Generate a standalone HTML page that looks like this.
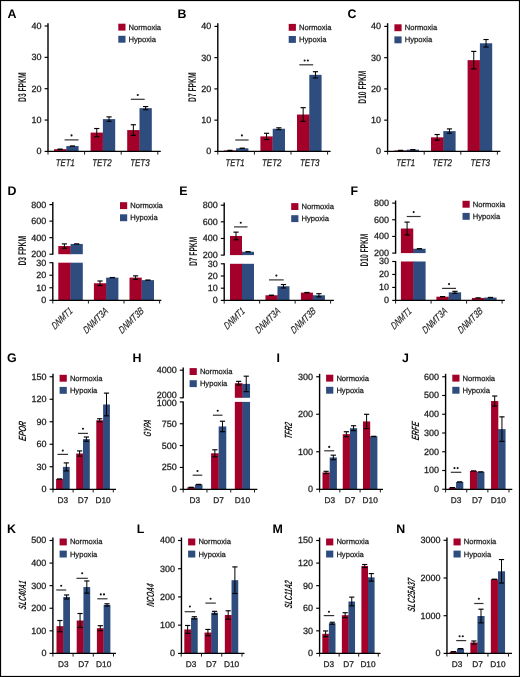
<!DOCTYPE html>
<html><head><meta charset="utf-8"><title>Figure</title>
<style>
html,body{margin:0;padding:0;background:#fff;}
body{width:520px;height:677px;overflow:hidden;}
svg{display:block;font-family:"Liberation Sans", sans-serif;text-rendering:geometricPrecision;}
</style></head><body>
<div style="position:absolute;left:0;top:0;width:520px;height:677px;will-change:transform">
<svg width="520" height="677" viewBox="0 0 520 677">
<rect x="0" y="0" width="520" height="677" fill="#fff"/>
<rect x="54" y="149.21" width="12.3" height="2.19" fill="#A3002A"/>
<rect x="66.2" y="149.21" width="0.7" height="2.19" fill="#A3002A"/>
<rect x="66.3" y="146.07" width="12.3" height="5.33" fill="#2E4C7E"/>
<line x1="57.55" y1="149.21" x2="62.75" y2="149.21" stroke="#000" stroke-width="1.4"/>
<line x1="69.85" y1="146.07" x2="75.05" y2="146.07" stroke="#000" stroke-width="1.4"/>
<rect x="90.6" y="132.59" width="12.3" height="18.81" fill="#A3002A"/>
<rect x="102.8" y="132.59" width="0.7" height="18.81" fill="#A3002A"/>
<rect x="102.9" y="119.11" width="12.3" height="32.29" fill="#2E4C7E"/>
<line x1="96.75" y1="128.51" x2="96.75" y2="136.67" stroke="#000" stroke-width="1.0"/>
<line x1="94.15" y1="128.51" x2="99.35" y2="128.51" stroke="#000" stroke-width="1.15"/>
<line x1="94.15" y1="136.67" x2="99.35" y2="136.67" stroke="#000" stroke-width="1.15"/>
<line x1="109.05" y1="116.91" x2="109.05" y2="121.3" stroke="#000" stroke-width="1.0"/>
<line x1="106.45" y1="116.91" x2="111.65" y2="116.91" stroke="#000" stroke-width="1.15"/>
<line x1="106.45" y1="121.3" x2="111.65" y2="121.3" stroke="#000" stroke-width="1.15"/>
<rect x="127.2" y="130.08" width="12.3" height="21.32" fill="#A3002A"/>
<rect x="139.4" y="130.08" width="0.7" height="21.32" fill="#A3002A"/>
<rect x="139.5" y="108.14" width="12.3" height="43.26" fill="#2E4C7E"/>
<line x1="133.35" y1="124.75" x2="133.35" y2="135.41" stroke="#000" stroke-width="1.0"/>
<line x1="130.75" y1="124.75" x2="135.95" y2="124.75" stroke="#000" stroke-width="1.15"/>
<line x1="130.75" y1="135.41" x2="135.95" y2="135.41" stroke="#000" stroke-width="1.15"/>
<line x1="145.65" y1="106.57" x2="145.65" y2="109.7" stroke="#000" stroke-width="1.0"/>
<line x1="143.05" y1="106.57" x2="148.25" y2="106.57" stroke="#000" stroke-width="1.15"/>
<line x1="143.05" y1="109.7" x2="148.25" y2="109.7" stroke="#000" stroke-width="1.15"/>
<line x1="48" y1="23.2" x2="48" y2="151.9" stroke="#000" stroke-width="1.4"/>
<line x1="47.5" y1="151.4" x2="160.8" y2="151.4" stroke="#000" stroke-width="1.25"/>
<line x1="48" y1="151.4" x2="48" y2="154.6" stroke="#1a1a1a" stroke-width="1"/>
<line x1="84.6" y1="151.4" x2="84.6" y2="154.6" stroke="#1a1a1a" stroke-width="1"/>
<line x1="121.2" y1="151.4" x2="121.2" y2="154.6" stroke="#1a1a1a" stroke-width="1"/>
<line x1="157.8" y1="151.4" x2="157.8" y2="154.6" stroke="#1a1a1a" stroke-width="1"/>
<line x1="44.6" y1="151.4" x2="48" y2="151.4" stroke="#000" stroke-width="1.15"/>
<text x="41.5" y="154.35" font-size="9.0" text-anchor="end" font-weight="normal" font-style="normal" fill="#1a1a1a" stroke="#1a1a1a" stroke-width="0.25" >0</text>
<line x1="44.6" y1="120.05" x2="48" y2="120.05" stroke="#000" stroke-width="1.15"/>
<text x="41.5" y="123" font-size="9.0" text-anchor="end" font-weight="normal" font-style="normal" fill="#1a1a1a" stroke="#1a1a1a" stroke-width="0.25" >10</text>
<line x1="44.6" y1="88.7" x2="48" y2="88.7" stroke="#000" stroke-width="1.15"/>
<text x="41.5" y="91.65" font-size="9.0" text-anchor="end" font-weight="normal" font-style="normal" fill="#1a1a1a" stroke="#1a1a1a" stroke-width="0.25" >20</text>
<line x1="44.6" y1="57.35" x2="48" y2="57.35" stroke="#000" stroke-width="1.15"/>
<text x="41.5" y="60.3" font-size="9.0" text-anchor="end" font-weight="normal" font-style="normal" fill="#1a1a1a" stroke="#1a1a1a" stroke-width="0.25" >30</text>
<line x1="44.6" y1="26" x2="48" y2="26" stroke="#000" stroke-width="1.15"/>
<text x="41.5" y="28.95" font-size="9.0" text-anchor="end" font-weight="normal" font-style="normal" fill="#1a1a1a" stroke="#1a1a1a" stroke-width="0.25" >40</text>
<text x="65.3" y="165.8" font-size="9.8" text-anchor="middle" font-weight="normal" font-style="italic" fill="#1a1a1a" stroke="#1a1a1a" stroke-width="0.25" textLength="19" lengthAdjust="spacingAndGlyphs">TET1</text>
<text x="101.9" y="165.8" font-size="9.8" text-anchor="middle" font-weight="normal" font-style="italic" fill="#1a1a1a" stroke="#1a1a1a" stroke-width="0.25" textLength="19.5" lengthAdjust="spacingAndGlyphs">TET2</text>
<text x="139.9" y="165.8" font-size="9.8" text-anchor="middle" font-weight="normal" font-style="italic" fill="#1a1a1a" stroke="#1a1a1a" stroke-width="0.25" textLength="19.5" lengthAdjust="spacingAndGlyphs">TET3</text>
<line x1="64.6" y1="139.9" x2="78.5" y2="139.9" stroke="#333" stroke-width="1.2"/>
<circle cx="71.55" cy="135.4" r="1.05" fill="#111"/>
<line x1="130.8" y1="99.3" x2="144.7" y2="99.3" stroke="#333" stroke-width="1.2"/>
<circle cx="137.75" cy="95" r="1.05" fill="#111"/>
<rect x="118.3" y="23.7" width="7.2" height="6.9" fill="#A3002A"/>
<rect x="118.3" y="35.8" width="7.2" height="6.9" fill="#2E4C7E"/>
<text x="128.6" y="29.6" font-size="7.6" text-anchor="start" font-weight="normal" font-style="normal" fill="#1a1a1a" stroke="#1a1a1a" stroke-width="0.25" >Normoxia</text>
<text x="128.6" y="41.7" font-size="7.6" text-anchor="start" font-weight="normal" font-style="normal" fill="#1a1a1a" stroke="#1a1a1a" stroke-width="0.25" >Hypoxia</text>
<text transform="translate(26,87.2) rotate(-90)" x="0" y="0" font-size="11.2" text-anchor="middle" font-style="normal" font-weight="bold" fill="#1a1a1a" textLength="29.4" lengthAdjust="spacingAndGlyphs">D3 FPKM</text>
<text x="7.4" y="18.3" font-size="12.4" text-anchor="start" font-weight="bold" font-style="normal" fill="#000" >A</text>
<rect x="223.8" y="150.46" width="12.3" height="0.94" fill="#A3002A"/>
<rect x="236" y="150.46" width="0.7" height="0.94" fill="#A3002A"/>
<rect x="236.1" y="148.28" width="12.3" height="3.12" fill="#2E4C7E"/>
<line x1="227.35" y1="150.46" x2="232.55" y2="150.46" stroke="#000" stroke-width="1.4"/>
<line x1="239.65" y1="148.28" x2="244.85" y2="148.28" stroke="#000" stroke-width="1.4"/>
<rect x="260.4" y="136.4" width="12.3" height="15" fill="#A3002A"/>
<rect x="272.6" y="136.4" width="0.7" height="15" fill="#A3002A"/>
<rect x="272.7" y="128.74" width="12.3" height="22.66" fill="#2E4C7E"/>
<line x1="266.55" y1="133.28" x2="266.55" y2="139.53" stroke="#000" stroke-width="1.0"/>
<line x1="263.95" y1="133.28" x2="269.15" y2="133.28" stroke="#000" stroke-width="1.15"/>
<line x1="263.95" y1="139.53" x2="269.15" y2="139.53" stroke="#000" stroke-width="1.15"/>
<line x1="278.85" y1="127.81" x2="278.85" y2="129.68" stroke="#000" stroke-width="1.0"/>
<line x1="276.25" y1="127.81" x2="281.45" y2="127.81" stroke="#000" stroke-width="1.15"/>
<line x1="276.25" y1="129.68" x2="281.45" y2="129.68" stroke="#000" stroke-width="1.15"/>
<rect x="297" y="114.53" width="12.3" height="36.88" fill="#A3002A"/>
<rect x="309.2" y="114.53" width="0.7" height="36.88" fill="#A3002A"/>
<rect x="309.3" y="74.84" width="12.3" height="76.56" fill="#2E4C7E"/>
<line x1="303.15" y1="107.65" x2="303.15" y2="121.4" stroke="#000" stroke-width="1.0"/>
<line x1="300.55" y1="107.65" x2="305.75" y2="107.65" stroke="#000" stroke-width="1.15"/>
<line x1="300.55" y1="121.4" x2="305.75" y2="121.4" stroke="#000" stroke-width="1.15"/>
<line x1="315.45" y1="71.71" x2="315.45" y2="77.96" stroke="#000" stroke-width="1.0"/>
<line x1="312.85" y1="71.71" x2="318.05" y2="71.71" stroke="#000" stroke-width="1.15"/>
<line x1="312.85" y1="77.96" x2="318.05" y2="77.96" stroke="#000" stroke-width="1.15"/>
<line x1="217.8" y1="23.2" x2="217.8" y2="151.9" stroke="#000" stroke-width="1.4"/>
<line x1="217.3" y1="151.4" x2="330.6" y2="151.4" stroke="#000" stroke-width="1.25"/>
<line x1="217.8" y1="151.4" x2="217.8" y2="154.6" stroke="#1a1a1a" stroke-width="1"/>
<line x1="254.4" y1="151.4" x2="254.4" y2="154.6" stroke="#1a1a1a" stroke-width="1"/>
<line x1="291" y1="151.4" x2="291" y2="154.6" stroke="#1a1a1a" stroke-width="1"/>
<line x1="327.6" y1="151.4" x2="327.6" y2="154.6" stroke="#1a1a1a" stroke-width="1"/>
<line x1="214.4" y1="151.4" x2="217.8" y2="151.4" stroke="#000" stroke-width="1.15"/>
<text x="211.3" y="154.35" font-size="9.0" text-anchor="end" font-weight="normal" font-style="normal" fill="#1a1a1a" stroke="#1a1a1a" stroke-width="0.25" >0</text>
<line x1="214.4" y1="120.15" x2="217.8" y2="120.15" stroke="#000" stroke-width="1.15"/>
<text x="211.3" y="123.1" font-size="9.0" text-anchor="end" font-weight="normal" font-style="normal" fill="#1a1a1a" stroke="#1a1a1a" stroke-width="0.25" >10</text>
<line x1="214.4" y1="88.9" x2="217.8" y2="88.9" stroke="#000" stroke-width="1.15"/>
<text x="211.3" y="91.85" font-size="9.0" text-anchor="end" font-weight="normal" font-style="normal" fill="#1a1a1a" stroke="#1a1a1a" stroke-width="0.25" >20</text>
<line x1="214.4" y1="57.65" x2="217.8" y2="57.65" stroke="#000" stroke-width="1.15"/>
<text x="211.3" y="60.6" font-size="9.0" text-anchor="end" font-weight="normal" font-style="normal" fill="#1a1a1a" stroke="#1a1a1a" stroke-width="0.25" >30</text>
<line x1="214.4" y1="26.4" x2="217.8" y2="26.4" stroke="#000" stroke-width="1.15"/>
<text x="211.3" y="29.35" font-size="9.0" text-anchor="end" font-weight="normal" font-style="normal" fill="#1a1a1a" stroke="#1a1a1a" stroke-width="0.25" >40</text>
<text x="235.1" y="165.8" font-size="9.8" text-anchor="middle" font-weight="normal" font-style="italic" fill="#1a1a1a" stroke="#1a1a1a" stroke-width="0.25" textLength="19" lengthAdjust="spacingAndGlyphs">TET1</text>
<text x="271.7" y="165.8" font-size="9.8" text-anchor="middle" font-weight="normal" font-style="italic" fill="#1a1a1a" stroke="#1a1a1a" stroke-width="0.25" textLength="19.5" lengthAdjust="spacingAndGlyphs">TET2</text>
<text x="309.7" y="165.8" font-size="9.8" text-anchor="middle" font-weight="normal" font-style="italic" fill="#1a1a1a" stroke="#1a1a1a" stroke-width="0.25" textLength="19.5" lengthAdjust="spacingAndGlyphs">TET3</text>
<line x1="235.2" y1="140" x2="248.6" y2="140" stroke="#333" stroke-width="1.2"/>
<circle cx="241.9" cy="135.4" r="1.05" fill="#111"/>
<line x1="299.3" y1="64.8" x2="313.2" y2="64.8" stroke="#333" stroke-width="1.2"/>
<circle cx="304.65" cy="60.5" r="1.05" fill="#111"/>
<circle cx="307.85" cy="60.5" r="1.05" fill="#111"/>
<rect x="288.7" y="23.9" width="7.2" height="6.9" fill="#A3002A"/>
<rect x="288.7" y="36" width="7.2" height="6.9" fill="#2E4C7E"/>
<text x="299" y="29.8" font-size="7.6" text-anchor="start" font-weight="normal" font-style="normal" fill="#1a1a1a" stroke="#1a1a1a" stroke-width="0.25" >Normoxia</text>
<text x="299" y="41.9" font-size="7.6" text-anchor="start" font-weight="normal" font-style="normal" fill="#1a1a1a" stroke="#1a1a1a" stroke-width="0.25" >Hypoxia</text>
<text transform="translate(195.9,87.2) rotate(-90)" x="0" y="0" font-size="11.2" text-anchor="middle" font-style="normal" font-weight="bold" fill="#1a1a1a" textLength="29.5" lengthAdjust="spacingAndGlyphs">D7 FPKM</text>
<text x="177.6" y="18.3" font-size="12.4" text-anchor="start" font-weight="bold" font-style="normal" fill="#000" >B</text>
<rect x="394.4" y="150.46" width="12.3" height="0.94" fill="#A3002A"/>
<rect x="406.6" y="150.46" width="0.7" height="0.94" fill="#A3002A"/>
<rect x="406.7" y="149.68" width="12.3" height="1.72" fill="#2E4C7E"/>
<line x1="397.95" y1="150.46" x2="403.15" y2="150.46" stroke="#000" stroke-width="1.4"/>
<line x1="410.25" y1="149.68" x2="415.45" y2="149.68" stroke="#000" stroke-width="1.4"/>
<rect x="431" y="137.34" width="12.3" height="14.06" fill="#A3002A"/>
<rect x="443.2" y="137.34" width="0.7" height="14.06" fill="#A3002A"/>
<rect x="443.3" y="131.09" width="12.3" height="20.31" fill="#2E4C7E"/>
<line x1="437.15" y1="134.53" x2="437.15" y2="140.15" stroke="#000" stroke-width="1.0"/>
<line x1="434.55" y1="134.53" x2="439.75" y2="134.53" stroke="#000" stroke-width="1.15"/>
<line x1="434.55" y1="140.15" x2="439.75" y2="140.15" stroke="#000" stroke-width="1.15"/>
<line x1="449.45" y1="128.9" x2="449.45" y2="133.28" stroke="#000" stroke-width="1.0"/>
<line x1="446.85" y1="128.9" x2="452.05" y2="128.9" stroke="#000" stroke-width="1.15"/>
<line x1="446.85" y1="133.28" x2="452.05" y2="133.28" stroke="#000" stroke-width="1.15"/>
<rect x="467.6" y="60.15" width="12.3" height="91.25" fill="#A3002A"/>
<rect x="479.8" y="60.15" width="0.7" height="91.25" fill="#A3002A"/>
<rect x="479.9" y="43.28" width="12.3" height="108.12" fill="#2E4C7E"/>
<line x1="473.75" y1="51.4" x2="473.75" y2="68.9" stroke="#000" stroke-width="1.0"/>
<line x1="471.15" y1="51.4" x2="476.35" y2="51.4" stroke="#000" stroke-width="1.15"/>
<line x1="471.15" y1="68.9" x2="476.35" y2="68.9" stroke="#000" stroke-width="1.15"/>
<line x1="486.05" y1="39.53" x2="486.05" y2="47.03" stroke="#000" stroke-width="1.0"/>
<line x1="483.45" y1="39.53" x2="488.65" y2="39.53" stroke="#000" stroke-width="1.15"/>
<line x1="483.45" y1="47.03" x2="488.65" y2="47.03" stroke="#000" stroke-width="1.15"/>
<line x1="387.6" y1="23.2" x2="387.6" y2="151.9" stroke="#000" stroke-width="1.4"/>
<line x1="387.1" y1="151.4" x2="500.4" y2="151.4" stroke="#000" stroke-width="1.25"/>
<line x1="387.6" y1="151.4" x2="387.6" y2="154.6" stroke="#1a1a1a" stroke-width="1"/>
<line x1="424.2" y1="151.4" x2="424.2" y2="154.6" stroke="#1a1a1a" stroke-width="1"/>
<line x1="460.8" y1="151.4" x2="460.8" y2="154.6" stroke="#1a1a1a" stroke-width="1"/>
<line x1="497.4" y1="151.4" x2="497.4" y2="154.6" stroke="#1a1a1a" stroke-width="1"/>
<line x1="384.2" y1="151.4" x2="387.6" y2="151.4" stroke="#000" stroke-width="1.15"/>
<text x="381.1" y="154.35" font-size="9.0" text-anchor="end" font-weight="normal" font-style="normal" fill="#1a1a1a" stroke="#1a1a1a" stroke-width="0.25" >0</text>
<line x1="384.2" y1="120.15" x2="387.6" y2="120.15" stroke="#000" stroke-width="1.15"/>
<text x="381.1" y="123.1" font-size="9.0" text-anchor="end" font-weight="normal" font-style="normal" fill="#1a1a1a" stroke="#1a1a1a" stroke-width="0.25" >10</text>
<line x1="384.2" y1="88.9" x2="387.6" y2="88.9" stroke="#000" stroke-width="1.15"/>
<text x="381.1" y="91.85" font-size="9.0" text-anchor="end" font-weight="normal" font-style="normal" fill="#1a1a1a" stroke="#1a1a1a" stroke-width="0.25" >20</text>
<line x1="384.2" y1="57.65" x2="387.6" y2="57.65" stroke="#000" stroke-width="1.15"/>
<text x="381.1" y="60.6" font-size="9.0" text-anchor="end" font-weight="normal" font-style="normal" fill="#1a1a1a" stroke="#1a1a1a" stroke-width="0.25" >30</text>
<line x1="384.2" y1="26.4" x2="387.6" y2="26.4" stroke="#000" stroke-width="1.15"/>
<text x="381.1" y="29.35" font-size="9.0" text-anchor="end" font-weight="normal" font-style="normal" fill="#1a1a1a" stroke="#1a1a1a" stroke-width="0.25" >40</text>
<text x="405.7" y="165.8" font-size="9.8" text-anchor="middle" font-weight="normal" font-style="italic" fill="#1a1a1a" stroke="#1a1a1a" stroke-width="0.25" textLength="19" lengthAdjust="spacingAndGlyphs">TET1</text>
<text x="442.3" y="165.8" font-size="9.8" text-anchor="middle" font-weight="normal" font-style="italic" fill="#1a1a1a" stroke="#1a1a1a" stroke-width="0.25" textLength="19.5" lengthAdjust="spacingAndGlyphs">TET2</text>
<text x="480.3" y="165.8" font-size="9.8" text-anchor="middle" font-weight="normal" font-style="italic" fill="#1a1a1a" stroke="#1a1a1a" stroke-width="0.25" textLength="19.5" lengthAdjust="spacingAndGlyphs">TET3</text>
<rect x="394.4" y="24.3" width="7.2" height="6.9" fill="#A3002A"/>
<rect x="394.4" y="36.4" width="7.2" height="6.9" fill="#2E4C7E"/>
<text x="404.7" y="30.2" font-size="7.6" text-anchor="start" font-weight="normal" font-style="normal" fill="#1a1a1a" stroke="#1a1a1a" stroke-width="0.25" >Normoxia</text>
<text x="404.7" y="42.3" font-size="7.6" text-anchor="start" font-weight="normal" font-style="normal" fill="#1a1a1a" stroke="#1a1a1a" stroke-width="0.25" >Hypoxia</text>
<text transform="translate(365.6,87.2) rotate(-90)" x="0" y="0" font-size="11.2" text-anchor="middle" font-style="normal" font-weight="bold" fill="#1a1a1a" textLength="32.9" lengthAdjust="spacingAndGlyphs">D10 FPKM</text>
<text x="347.6" y="18.3" font-size="12.4" text-anchor="start" font-weight="bold" font-style="normal" fill="#000" >C</text>
<rect x="58.3" y="262.7" width="12.25" height="37.6" fill="#A3002A"/>
<rect x="58.3" y="246.05" width="12.25" height="8.15" fill="#A3002A"/>
<rect x="70.45" y="262.7" width="0.7" height="37.6" fill="#A3002A"/>
<rect x="70.45" y="246.05" width="0.7" height="8.15" fill="#A3002A"/>
<rect x="70.55" y="262.7" width="12.25" height="37.6" fill="#2E4C7E"/>
<rect x="70.55" y="243.95" width="12.25" height="10.25" fill="#2E4C7E"/>
<line x1="64.42" y1="243.9" x2="64.42" y2="248.2" stroke="#000" stroke-width="1.0"/>
<line x1="61.82" y1="243.9" x2="67.02" y2="243.9" stroke="#000" stroke-width="1.15"/>
<line x1="61.82" y1="248.2" x2="67.02" y2="248.2" stroke="#000" stroke-width="1.15"/>
<line x1="74.08" y1="243.95" x2="79.27" y2="243.95" stroke="#000" stroke-width="1.4"/>
<rect x="93.9" y="283.26" width="12.25" height="17.04" fill="#A3002A"/>
<rect x="106.05" y="283.26" width="0.7" height="17.04" fill="#A3002A"/>
<rect x="106.15" y="277.62" width="12.25" height="22.68" fill="#2E4C7E"/>
<line x1="100.03" y1="281" x2="100.03" y2="285.51" stroke="#000" stroke-width="1.0"/>
<line x1="97.43" y1="281" x2="102.62" y2="281" stroke="#000" stroke-width="1.15"/>
<line x1="97.43" y1="285.51" x2="102.62" y2="285.51" stroke="#000" stroke-width="1.15"/>
<line x1="109.68" y1="277.62" x2="114.88" y2="277.62" stroke="#000" stroke-width="1.4"/>
<rect x="129.5" y="277.62" width="12.25" height="22.68" fill="#A3002A"/>
<rect x="141.65" y="280.12" width="0.7" height="20.18" fill="#A3002A"/>
<rect x="141.75" y="280.12" width="12.25" height="20.18" fill="#2E4C7E"/>
<line x1="135.62" y1="275.86" x2="135.62" y2="279.37" stroke="#000" stroke-width="1.0"/>
<line x1="133.03" y1="275.86" x2="138.22" y2="275.86" stroke="#000" stroke-width="1.15"/>
<line x1="133.03" y1="279.37" x2="138.22" y2="279.37" stroke="#000" stroke-width="1.15"/>
<line x1="145.28" y1="280.12" x2="150.47" y2="280.12" stroke="#000" stroke-width="1.4"/>
<line x1="52.8" y1="202" x2="52.8" y2="254.7" stroke="#000" stroke-width="1.4"/>
<line x1="52.8" y1="262.2" x2="52.8" y2="300.8" stroke="#000" stroke-width="1.4"/>
<line x1="52.3" y1="300.3" x2="161.3" y2="300.3" stroke="#000" stroke-width="1.25"/>
<line x1="52.8" y1="300.3" x2="52.8" y2="303.5" stroke="#1a1a1a" stroke-width="1"/>
<line x1="88.4" y1="300.3" x2="88.4" y2="303.5" stroke="#1a1a1a" stroke-width="1"/>
<line x1="124" y1="300.3" x2="124" y2="303.5" stroke="#1a1a1a" stroke-width="1"/>
<line x1="159.6" y1="300.3" x2="159.6" y2="303.5" stroke="#1a1a1a" stroke-width="1"/>
<line x1="49.4" y1="254.2" x2="52.8" y2="254.2" stroke="#000" stroke-width="1.15"/>
<text x="46.3" y="257.15" font-size="9.0" text-anchor="end" font-weight="normal" font-style="normal" fill="#1a1a1a" stroke="#1a1a1a" stroke-width="0.25" >200</text>
<line x1="49.4" y1="237.67" x2="52.8" y2="237.67" stroke="#000" stroke-width="1.15"/>
<text x="46.3" y="240.62" font-size="9.0" text-anchor="end" font-weight="normal" font-style="normal" fill="#1a1a1a" stroke="#1a1a1a" stroke-width="0.25" >400</text>
<line x1="49.4" y1="221.13" x2="52.8" y2="221.13" stroke="#000" stroke-width="1.15"/>
<text x="46.3" y="224.08" font-size="9.0" text-anchor="end" font-weight="normal" font-style="normal" fill="#1a1a1a" stroke="#1a1a1a" stroke-width="0.25" >600</text>
<line x1="49.4" y1="204.6" x2="52.8" y2="204.6" stroke="#000" stroke-width="1.15"/>
<text x="46.3" y="207.55" font-size="9.0" text-anchor="end" font-weight="normal" font-style="normal" fill="#1a1a1a" stroke="#1a1a1a" stroke-width="0.25" >800</text>
<line x1="49.4" y1="300.3" x2="52.8" y2="300.3" stroke="#000" stroke-width="1.15"/>
<text x="46.3" y="303.25" font-size="9.0" text-anchor="end" font-weight="normal" font-style="normal" fill="#1a1a1a" stroke="#1a1a1a" stroke-width="0.25" >0</text>
<line x1="49.4" y1="287.77" x2="52.8" y2="287.77" stroke="#000" stroke-width="1.15"/>
<text x="46.3" y="290.72" font-size="9.0" text-anchor="end" font-weight="normal" font-style="normal" fill="#1a1a1a" stroke="#1a1a1a" stroke-width="0.25" >10</text>
<line x1="49.4" y1="275.23" x2="52.8" y2="275.23" stroke="#000" stroke-width="1.15"/>
<text x="46.3" y="278.18" font-size="9.0" text-anchor="end" font-weight="normal" font-style="normal" fill="#1a1a1a" stroke="#1a1a1a" stroke-width="0.25" >20</text>
<line x1="49.4" y1="262.7" x2="52.8" y2="262.7" stroke="#000" stroke-width="1.15"/>
<text x="46.3" y="265.65" font-size="9.0" text-anchor="end" font-weight="normal" font-style="normal" fill="#1a1a1a" stroke="#1a1a1a" stroke-width="0.25" >30</text>
<text transform="translate(73.05,311.9) rotate(-45) skewX(-8)" x="0" y="0" font-size="9.9" text-anchor="end" font-style="italic" fill="#1a1a1a" stroke="#1a1a1a" stroke-width="0.15" textLength="25.5" lengthAdjust="spacingAndGlyphs">DNMT1</text>
<text transform="translate(108.65,311.9) rotate(-45) skewX(-8)" x="0" y="0" font-size="9.9" text-anchor="end" font-style="italic" fill="#1a1a1a" stroke="#1a1a1a" stroke-width="0.15" textLength="31.5" lengthAdjust="spacingAndGlyphs">DNMT3A</text>
<text transform="translate(144.25,311.9) rotate(-45) skewX(-8)" x="0" y="0" font-size="9.9" text-anchor="end" font-style="italic" fill="#1a1a1a" stroke="#1a1a1a" stroke-width="0.15" textLength="31.5" lengthAdjust="spacingAndGlyphs">DNMT3B</text>
<rect x="120" y="202.2" width="7.2" height="6.9" fill="#A3002A"/>
<rect x="120" y="214.3" width="7.2" height="6.9" fill="#2E4C7E"/>
<text x="130.3" y="208.1" font-size="7.6" text-anchor="start" font-weight="normal" font-style="normal" fill="#1a1a1a" stroke="#1a1a1a" stroke-width="0.25" >Normoxia</text>
<text x="130.3" y="220.2" font-size="7.6" text-anchor="start" font-weight="normal" font-style="normal" fill="#1a1a1a" stroke="#1a1a1a" stroke-width="0.25" >Hypoxia</text>
<text transform="translate(25.9,250.7) rotate(-90)" x="0" y="0" font-size="11.2" text-anchor="middle" font-style="normal" font-weight="bold" fill="#1a1a1a" textLength="29.6" lengthAdjust="spacingAndGlyphs">D3 FPKM</text>
<text x="7.6" y="195.2" font-size="12.4" text-anchor="start" font-weight="bold" font-style="normal" fill="#000" >D</text>
<rect x="230" y="263.8" width="12" height="36.6" fill="#A3002A"/>
<rect x="230" y="235.96" width="12" height="19.14" fill="#A3002A"/>
<rect x="241.9" y="263.8" width="0.7" height="36.6" fill="#A3002A"/>
<rect x="241.9" y="251.77" width="0.7" height="3.33" fill="#A3002A"/>
<rect x="242" y="263.8" width="12" height="36.6" fill="#2E4C7E"/>
<rect x="242" y="251.77" width="12" height="3.33" fill="#2E4C7E"/>
<line x1="236" y1="232.14" x2="236" y2="239.79" stroke="#000" stroke-width="1.0"/>
<line x1="233.4" y1="232.14" x2="238.6" y2="232.14" stroke="#000" stroke-width="1.15"/>
<line x1="233.4" y1="239.79" x2="238.6" y2="239.79" stroke="#000" stroke-width="1.15"/>
<line x1="245.4" y1="251.77" x2="250.6" y2="251.77" stroke="#000" stroke-width="1.4"/>
<rect x="265.47" y="295.28" width="12" height="5.12" fill="#A3002A"/>
<rect x="277.37" y="295.28" width="0.7" height="5.12" fill="#A3002A"/>
<rect x="277.47" y="286.25" width="12" height="14.15" fill="#2E4C7E"/>
<line x1="268.87" y1="295.28" x2="274.07" y2="295.28" stroke="#000" stroke-width="1.4"/>
<line x1="283.47" y1="284.54" x2="283.47" y2="287.96" stroke="#000" stroke-width="1.0"/>
<line x1="280.87" y1="284.54" x2="286.07" y2="284.54" stroke="#000" stroke-width="1.15"/>
<line x1="280.87" y1="287.96" x2="286.07" y2="287.96" stroke="#000" stroke-width="1.15"/>
<rect x="300.94" y="292.59" width="12" height="7.81" fill="#A3002A"/>
<rect x="312.84" y="295.28" width="0.7" height="5.12" fill="#A3002A"/>
<rect x="312.94" y="295.28" width="12" height="5.12" fill="#2E4C7E"/>
<line x1="304.34" y1="292.59" x2="309.54" y2="292.59" stroke="#000" stroke-width="1.4"/>
<line x1="318.94" y1="293.69" x2="318.94" y2="296.86" stroke="#000" stroke-width="1.0"/>
<line x1="316.34" y1="293.69" x2="321.54" y2="293.69" stroke="#000" stroke-width="1.15"/>
<line x1="316.34" y1="296.86" x2="321.54" y2="296.86" stroke="#000" stroke-width="1.15"/>
<line x1="224.2" y1="202.6" x2="224.2" y2="255.6" stroke="#000" stroke-width="1.4"/>
<line x1="224.2" y1="263.3" x2="224.2" y2="300.9" stroke="#000" stroke-width="1.4"/>
<line x1="223.7" y1="300.4" x2="333.9" y2="300.4" stroke="#000" stroke-width="1.25"/>
<line x1="224.2" y1="300.4" x2="224.2" y2="303.6" stroke="#1a1a1a" stroke-width="1"/>
<line x1="259.67" y1="300.4" x2="259.67" y2="303.6" stroke="#1a1a1a" stroke-width="1"/>
<line x1="295.14" y1="300.4" x2="295.14" y2="303.6" stroke="#1a1a1a" stroke-width="1"/>
<line x1="330.61" y1="300.4" x2="330.61" y2="303.6" stroke="#1a1a1a" stroke-width="1"/>
<line x1="220.8" y1="255.1" x2="224.2" y2="255.1" stroke="#000" stroke-width="1.15"/>
<text x="217.7" y="258.05" font-size="9.0" text-anchor="end" font-weight="normal" font-style="normal" fill="#1a1a1a" stroke="#1a1a1a" stroke-width="0.25" >200</text>
<line x1="220.8" y1="238.46" x2="224.2" y2="238.46" stroke="#000" stroke-width="1.15"/>
<text x="217.7" y="241.41" font-size="9.0" text-anchor="end" font-weight="normal" font-style="normal" fill="#1a1a1a" stroke="#1a1a1a" stroke-width="0.25" >400</text>
<line x1="220.8" y1="221.82" x2="224.2" y2="221.82" stroke="#000" stroke-width="1.15"/>
<text x="217.7" y="224.77" font-size="9.0" text-anchor="end" font-weight="normal" font-style="normal" fill="#1a1a1a" stroke="#1a1a1a" stroke-width="0.25" >600</text>
<line x1="220.8" y1="205.18" x2="224.2" y2="205.18" stroke="#000" stroke-width="1.15"/>
<text x="217.7" y="208.13" font-size="9.0" text-anchor="end" font-weight="normal" font-style="normal" fill="#1a1a1a" stroke="#1a1a1a" stroke-width="0.25" >800</text>
<line x1="220.8" y1="300.4" x2="224.2" y2="300.4" stroke="#000" stroke-width="1.15"/>
<text x="217.7" y="303.35" font-size="9.0" text-anchor="end" font-weight="normal" font-style="normal" fill="#1a1a1a" stroke="#1a1a1a" stroke-width="0.25" >0</text>
<line x1="220.8" y1="288.2" x2="224.2" y2="288.2" stroke="#000" stroke-width="1.15"/>
<text x="217.7" y="291.15" font-size="9.0" text-anchor="end" font-weight="normal" font-style="normal" fill="#1a1a1a" stroke="#1a1a1a" stroke-width="0.25" >10</text>
<line x1="220.8" y1="276" x2="224.2" y2="276" stroke="#000" stroke-width="1.15"/>
<text x="217.7" y="278.95" font-size="9.0" text-anchor="end" font-weight="normal" font-style="normal" fill="#1a1a1a" stroke="#1a1a1a" stroke-width="0.25" >20</text>
<line x1="220.8" y1="263.8" x2="224.2" y2="263.8" stroke="#000" stroke-width="1.15"/>
<text x="217.7" y="266.75" font-size="9.0" text-anchor="end" font-weight="normal" font-style="normal" fill="#1a1a1a" stroke="#1a1a1a" stroke-width="0.25" >30</text>
<text transform="translate(245.4,312) rotate(-45) skewX(-8)" x="0" y="0" font-size="9.9" text-anchor="end" font-style="italic" fill="#1a1a1a" stroke="#1a1a1a" stroke-width="0.15" textLength="25.5" lengthAdjust="spacingAndGlyphs">DNMT1</text>
<text transform="translate(280.87,312) rotate(-45) skewX(-8)" x="0" y="0" font-size="9.9" text-anchor="end" font-style="italic" fill="#1a1a1a" stroke="#1a1a1a" stroke-width="0.15" textLength="31.5" lengthAdjust="spacingAndGlyphs">DNMT3A</text>
<text transform="translate(316.34,312) rotate(-45) skewX(-8)" x="0" y="0" font-size="9.9" text-anchor="end" font-style="italic" fill="#1a1a1a" stroke="#1a1a1a" stroke-width="0.15" textLength="31.5" lengthAdjust="spacingAndGlyphs">DNMT3B</text>
<line x1="234" y1="226.9" x2="247.5" y2="226.9" stroke="#333" stroke-width="1.2"/>
<circle cx="240.75" cy="222.8" r="1.05" fill="#111"/>
<line x1="269" y1="279.9" x2="283.7" y2="279.9" stroke="#333" stroke-width="1.2"/>
<circle cx="276.35" cy="275.6" r="1.05" fill="#111"/>
<rect x="291.2" y="203.1" width="7.2" height="6.9" fill="#A3002A"/>
<rect x="291.2" y="215.2" width="7.2" height="6.9" fill="#2E4C7E"/>
<text x="301.5" y="209" font-size="7.6" text-anchor="start" font-weight="normal" font-style="normal" fill="#1a1a1a" stroke="#1a1a1a" stroke-width="0.25" >Normoxia</text>
<text x="301.5" y="221.1" font-size="7.6" text-anchor="start" font-weight="normal" font-style="normal" fill="#1a1a1a" stroke="#1a1a1a" stroke-width="0.25" >Hypoxia</text>
<text transform="translate(197.1,251.4) rotate(-90)" x="0" y="0" font-size="11.2" text-anchor="middle" font-style="normal" font-weight="bold" fill="#1a1a1a" textLength="29.3" lengthAdjust="spacingAndGlyphs">D7 FPKM</text>
<text x="179.2" y="195.2" font-size="12.4" text-anchor="start" font-weight="bold" font-style="normal" fill="#000" >E</text>
<rect x="400.9" y="261.49" width="12.35" height="38.91" fill="#A3002A"/>
<rect x="400.9" y="228.53" width="12.35" height="24.57" fill="#A3002A"/>
<rect x="413.15" y="261.49" width="0.7" height="38.91" fill="#A3002A"/>
<rect x="413.15" y="248.77" width="0.7" height="4.33" fill="#A3002A"/>
<rect x="413.25" y="261.49" width="12.35" height="38.91" fill="#2E4C7E"/>
<rect x="413.25" y="248.77" width="12.35" height="4.33" fill="#2E4C7E"/>
<line x1="407.08" y1="222.11" x2="407.08" y2="234.94" stroke="#000" stroke-width="1.0"/>
<line x1="404.48" y1="222.11" x2="409.68" y2="222.11" stroke="#000" stroke-width="1.15"/>
<line x1="404.48" y1="234.94" x2="409.68" y2="234.94" stroke="#000" stroke-width="1.15"/>
<line x1="416.83" y1="248.77" x2="422.03" y2="248.77" stroke="#000" stroke-width="1.4"/>
<rect x="436.4" y="296.7" width="12.35" height="3.7" fill="#A3002A"/>
<rect x="448.65" y="296.7" width="0.7" height="3.7" fill="#A3002A"/>
<rect x="448.75" y="292.36" width="12.35" height="8.04" fill="#2E4C7E"/>
<line x1="439.98" y1="296.7" x2="445.18" y2="296.7" stroke="#000" stroke-width="1.4"/>
<line x1="454.93" y1="291.32" x2="454.93" y2="293.4" stroke="#000" stroke-width="1.0"/>
<line x1="452.33" y1="291.32" x2="457.53" y2="291.32" stroke="#000" stroke-width="1.15"/>
<line x1="452.33" y1="293.4" x2="457.53" y2="293.4" stroke="#000" stroke-width="1.15"/>
<rect x="471.9" y="297.94" width="12.35" height="2.46" fill="#A3002A"/>
<rect x="484.15" y="297.94" width="0.7" height="2.46" fill="#A3002A"/>
<rect x="484.25" y="297.55" width="12.35" height="2.85" fill="#2E4C7E"/>
<line x1="475.48" y1="297.94" x2="480.68" y2="297.94" stroke="#000" stroke-width="1.4"/>
<line x1="487.83" y1="297.55" x2="493.03" y2="297.55" stroke="#000" stroke-width="1.4"/>
<line x1="395.6" y1="200.5" x2="395.6" y2="253.6" stroke="#000" stroke-width="1.4"/>
<line x1="395.6" y1="260.99" x2="395.6" y2="300.9" stroke="#000" stroke-width="1.4"/>
<line x1="395.1" y1="300.4" x2="504.8" y2="300.4" stroke="#000" stroke-width="1.25"/>
<line x1="395.6" y1="300.4" x2="395.6" y2="303.6" stroke="#1a1a1a" stroke-width="1"/>
<line x1="431.1" y1="300.4" x2="431.1" y2="303.6" stroke="#1a1a1a" stroke-width="1"/>
<line x1="466.6" y1="300.4" x2="466.6" y2="303.6" stroke="#1a1a1a" stroke-width="1"/>
<line x1="502.1" y1="300.4" x2="502.1" y2="303.6" stroke="#1a1a1a" stroke-width="1"/>
<line x1="392.2" y1="253.1" x2="395.6" y2="253.1" stroke="#000" stroke-width="1.15"/>
<text x="389.1" y="256.05" font-size="9.0" text-anchor="end" font-weight="normal" font-style="normal" fill="#1a1a1a" stroke="#1a1a1a" stroke-width="0.25" >200</text>
<line x1="392.2" y1="236.44" x2="395.6" y2="236.44" stroke="#000" stroke-width="1.15"/>
<text x="389.1" y="239.39" font-size="9.0" text-anchor="end" font-weight="normal" font-style="normal" fill="#1a1a1a" stroke="#1a1a1a" stroke-width="0.25" >400</text>
<line x1="392.2" y1="219.78" x2="395.6" y2="219.78" stroke="#000" stroke-width="1.15"/>
<text x="389.1" y="222.73" font-size="9.0" text-anchor="end" font-weight="normal" font-style="normal" fill="#1a1a1a" stroke="#1a1a1a" stroke-width="0.25" >600</text>
<line x1="392.2" y1="203.12" x2="395.6" y2="203.12" stroke="#000" stroke-width="1.15"/>
<text x="389.1" y="206.07" font-size="9.0" text-anchor="end" font-weight="normal" font-style="normal" fill="#1a1a1a" stroke="#1a1a1a" stroke-width="0.25" >800</text>
<line x1="392.2" y1="300.4" x2="395.6" y2="300.4" stroke="#000" stroke-width="1.15"/>
<text x="389.1" y="303.35" font-size="9.0" text-anchor="end" font-weight="normal" font-style="normal" fill="#1a1a1a" stroke="#1a1a1a" stroke-width="0.25" >0</text>
<line x1="392.2" y1="287.43" x2="395.6" y2="287.43" stroke="#000" stroke-width="1.15"/>
<text x="389.1" y="290.38" font-size="9.0" text-anchor="end" font-weight="normal" font-style="normal" fill="#1a1a1a" stroke="#1a1a1a" stroke-width="0.25" >10</text>
<line x1="392.2" y1="274.46" x2="395.6" y2="274.46" stroke="#000" stroke-width="1.15"/>
<text x="389.1" y="277.41" font-size="9.0" text-anchor="end" font-weight="normal" font-style="normal" fill="#1a1a1a" stroke="#1a1a1a" stroke-width="0.25" >20</text>
<line x1="392.2" y1="261.49" x2="395.6" y2="261.49" stroke="#000" stroke-width="1.15"/>
<text x="389.1" y="264.44" font-size="9.0" text-anchor="end" font-weight="normal" font-style="normal" fill="#1a1a1a" stroke="#1a1a1a" stroke-width="0.25" >30</text>
<text transform="translate(412.25,312) rotate(-45) skewX(-8)" x="0" y="0" font-size="9.9" text-anchor="end" font-style="italic" fill="#1a1a1a" stroke="#1a1a1a" stroke-width="0.15" textLength="25.5" lengthAdjust="spacingAndGlyphs">DNMT1</text>
<text transform="translate(447.75,312) rotate(-45) skewX(-8)" x="0" y="0" font-size="9.9" text-anchor="end" font-style="italic" fill="#1a1a1a" stroke="#1a1a1a" stroke-width="0.15" textLength="31.5" lengthAdjust="spacingAndGlyphs">DNMT3A</text>
<text transform="translate(483.25,312) rotate(-45) skewX(-8)" x="0" y="0" font-size="9.9" text-anchor="end" font-style="italic" fill="#1a1a1a" stroke="#1a1a1a" stroke-width="0.15" textLength="31.5" lengthAdjust="spacingAndGlyphs">DNMT3B</text>
<line x1="406.7" y1="216.5" x2="420.6" y2="216.5" stroke="#333" stroke-width="1.2"/>
<circle cx="413.65" cy="212.1" r="1.05" fill="#111"/>
<line x1="442.1" y1="288.4" x2="456" y2="288.4" stroke="#333" stroke-width="1.2"/>
<circle cx="449.05" cy="284.1" r="1.05" fill="#111"/>
<rect x="462.5" y="200.8" width="7.2" height="6.9" fill="#A3002A"/>
<rect x="462.5" y="212.9" width="7.2" height="6.9" fill="#2E4C7E"/>
<text x="472.8" y="206.7" font-size="7.6" text-anchor="start" font-weight="normal" font-style="normal" fill="#1a1a1a" stroke="#1a1a1a" stroke-width="0.25" >Normoxia</text>
<text x="472.8" y="218.8" font-size="7.6" text-anchor="start" font-weight="normal" font-style="normal" fill="#1a1a1a" stroke="#1a1a1a" stroke-width="0.25" >Hypoxia</text>
<text transform="translate(368.3,250.1) rotate(-90)" x="0" y="0" font-size="11.2" text-anchor="middle" font-style="normal" font-weight="bold" fill="#1a1a1a" textLength="32.7" lengthAdjust="spacingAndGlyphs">D10 FPKM</text>
<text x="350.6" y="195.2" font-size="12.4" text-anchor="start" font-weight="bold" font-style="normal" fill="#000" >F</text>
<rect x="56.1" y="479.01" width="6.8" height="10.24" fill="#A3002A"/>
<rect x="62.8" y="479.01" width="0.7" height="10.24" fill="#A3002A"/>
<rect x="62.9" y="466.9" width="6.8" height="22.35" fill="#2E4C7E"/>
<line x1="56.9" y1="479.01" x2="62.1" y2="479.01" stroke="#000" stroke-width="1.4"/>
<line x1="66.3" y1="462.89" x2="66.3" y2="470.91" stroke="#000" stroke-width="1.0"/>
<line x1="63.7" y1="462.89" x2="68.9" y2="462.89" stroke="#000" stroke-width="1.15"/>
<line x1="63.7" y1="470.91" x2="68.9" y2="470.91" stroke="#000" stroke-width="1.15"/>
<rect x="76.2" y="453.51" width="6.8" height="35.74" fill="#A3002A"/>
<rect x="82.9" y="453.51" width="0.7" height="35.74" fill="#A3002A"/>
<rect x="83" y="439.13" width="6.8" height="50.12" fill="#2E4C7E"/>
<line x1="79.6" y1="450.93" x2="79.6" y2="456.08" stroke="#000" stroke-width="1.0"/>
<line x1="77" y1="450.93" x2="82.2" y2="450.93" stroke="#000" stroke-width="1.15"/>
<line x1="77" y1="456.08" x2="82.2" y2="456.08" stroke="#000" stroke-width="1.15"/>
<line x1="86.4" y1="437.01" x2="86.4" y2="441.25" stroke="#000" stroke-width="1.0"/>
<line x1="83.8" y1="437.01" x2="89" y2="437.01" stroke="#000" stroke-width="1.15"/>
<line x1="83.8" y1="441.25" x2="89" y2="441.25" stroke="#000" stroke-width="1.15"/>
<rect x="96.3" y="420.29" width="6.8" height="68.96" fill="#A3002A"/>
<rect x="103" y="420.29" width="0.7" height="68.96" fill="#A3002A"/>
<rect x="103.1" y="404.47" width="6.8" height="84.78" fill="#2E4C7E"/>
<line x1="99.7" y1="418.77" x2="99.7" y2="421.8" stroke="#000" stroke-width="1.0"/>
<line x1="97.1" y1="418.77" x2="102.3" y2="418.77" stroke="#000" stroke-width="1.15"/>
<line x1="97.1" y1="421.8" x2="102.3" y2="421.8" stroke="#000" stroke-width="1.15"/>
<line x1="106.5" y1="393.12" x2="106.5" y2="415.82" stroke="#000" stroke-width="1.0"/>
<line x1="103.9" y1="393.12" x2="109.1" y2="393.12" stroke="#000" stroke-width="1.15"/>
<line x1="103.9" y1="415.82" x2="109.1" y2="415.82" stroke="#000" stroke-width="1.15"/>
<line x1="53" y1="373.8" x2="53" y2="489.75" stroke="#000" stroke-width="1.4"/>
<line x1="52.5" y1="489.25" x2="116" y2="489.25" stroke="#000" stroke-width="1.25"/>
<line x1="53" y1="489.25" x2="53" y2="492.45" stroke="#1a1a1a" stroke-width="1"/>
<line x1="73.1" y1="489.25" x2="73.1" y2="492.45" stroke="#1a1a1a" stroke-width="1"/>
<line x1="93.2" y1="489.25" x2="93.2" y2="492.45" stroke="#1a1a1a" stroke-width="1"/>
<line x1="113.3" y1="489.25" x2="113.3" y2="492.45" stroke="#1a1a1a" stroke-width="1"/>
<line x1="49.6" y1="489.25" x2="53" y2="489.25" stroke="#000" stroke-width="1.15"/>
<text x="46.5" y="492.2" font-size="9.0" text-anchor="end" font-weight="normal" font-style="normal" fill="#1a1a1a" stroke="#1a1a1a" stroke-width="0.25" >0</text>
<line x1="49.6" y1="466.75" x2="53" y2="466.75" stroke="#000" stroke-width="1.15"/>
<text x="46.5" y="469.7" font-size="9.0" text-anchor="end" font-weight="normal" font-style="normal" fill="#1a1a1a" stroke="#1a1a1a" stroke-width="0.25" >30</text>
<line x1="49.6" y1="444.25" x2="53" y2="444.25" stroke="#000" stroke-width="1.15"/>
<text x="46.5" y="447.2" font-size="9.0" text-anchor="end" font-weight="normal" font-style="normal" fill="#1a1a1a" stroke="#1a1a1a" stroke-width="0.25" >60</text>
<line x1="49.6" y1="421.75" x2="53" y2="421.75" stroke="#000" stroke-width="1.15"/>
<text x="46.5" y="424.7" font-size="9.0" text-anchor="end" font-weight="normal" font-style="normal" fill="#1a1a1a" stroke="#1a1a1a" stroke-width="0.25" >90</text>
<line x1="49.6" y1="399.25" x2="53" y2="399.25" stroke="#000" stroke-width="1.15"/>
<text x="46.5" y="402.2" font-size="9.0" text-anchor="end" font-weight="normal" font-style="normal" fill="#1a1a1a" stroke="#1a1a1a" stroke-width="0.25" >120</text>
<line x1="49.6" y1="376.75" x2="53" y2="376.75" stroke="#000" stroke-width="1.15"/>
<text x="46.5" y="379.7" font-size="9.0" text-anchor="end" font-weight="normal" font-style="normal" fill="#1a1a1a" stroke="#1a1a1a" stroke-width="0.25" >150</text>
<text x="62.9" y="503.4" font-size="8.3" text-anchor="middle" font-weight="normal" font-style="normal" fill="#1a1a1a" stroke="#1a1a1a" stroke-width="0.25" >D3</text>
<text x="83" y="503.4" font-size="8.3" text-anchor="middle" font-weight="normal" font-style="normal" fill="#1a1a1a" stroke="#1a1a1a" stroke-width="0.25" >D7</text>
<text x="103.1" y="503.4" font-size="8.3" text-anchor="middle" font-weight="normal" font-style="normal" fill="#1a1a1a" stroke="#1a1a1a" stroke-width="0.25" >D10</text>
<line x1="57.5" y1="454.4" x2="68.1" y2="454.4" stroke="#333" stroke-width="1.2"/>
<circle cx="62.8" cy="450.6" r="1.05" fill="#111"/>
<line x1="78" y1="433.4" x2="88" y2="433.4" stroke="#333" stroke-width="1.2"/>
<circle cx="83" cy="428.7" r="1.05" fill="#111"/>
<rect x="59.6" y="374.8" width="7.2" height="6.9" fill="#A3002A"/>
<rect x="59.6" y="386.9" width="7.2" height="6.9" fill="#2E4C7E"/>
<text x="69.9" y="380.7" font-size="7.6" text-anchor="start" font-weight="normal" font-style="normal" fill="#1a1a1a" stroke="#1a1a1a" stroke-width="0.25" >Normoxia</text>
<text x="69.9" y="392.8" font-size="7.6" text-anchor="start" font-weight="normal" font-style="normal" fill="#1a1a1a" stroke="#1a1a1a" stroke-width="0.25" >Hypoxia</text>
<text transform="translate(26.4,431.5) rotate(-90) skewX(-10)" x="0" y="0" font-size="10.6" text-anchor="middle" font-style="italic" font-weight="bold" fill="#1a1a1a" textLength="19.3" lengthAdjust="spacingAndGlyphs">EPOR</text>
<text x="7" y="362.3" font-size="12.4" text-anchor="start" font-weight="bold" font-style="normal" fill="#000" >G</text>
<rect x="187.3" y="487.38" width="7.6" height="1.92" fill="#A3002A"/>
<rect x="194.8" y="487.38" width="0.7" height="1.92" fill="#A3002A"/>
<rect x="194.9" y="484.49" width="7.6" height="4.81" fill="#2E4C7E"/>
<line x1="188.5" y1="487.38" x2="193.7" y2="487.38" stroke="#000" stroke-width="1.4"/>
<line x1="196.1" y1="484.49" x2="201.3" y2="484.49" stroke="#000" stroke-width="1.4"/>
<rect x="211.07" y="453.29" width="7.6" height="36.01" fill="#A3002A"/>
<rect x="218.57" y="453.29" width="0.7" height="36.01" fill="#A3002A"/>
<rect x="218.67" y="426.46" width="7.6" height="62.84" fill="#2E4C7E"/>
<line x1="214.87" y1="449.8" x2="214.87" y2="456.79" stroke="#000" stroke-width="1.0"/>
<line x1="212.27" y1="449.8" x2="217.47" y2="449.8" stroke="#000" stroke-width="1.15"/>
<line x1="212.27" y1="456.79" x2="217.47" y2="456.79" stroke="#000" stroke-width="1.15"/>
<line x1="222.47" y1="421.22" x2="222.47" y2="431.7" stroke="#000" stroke-width="1.0"/>
<line x1="219.87" y1="421.22" x2="225.07" y2="421.22" stroke="#000" stroke-width="1.15"/>
<line x1="219.87" y1="431.7" x2="225.07" y2="431.7" stroke="#000" stroke-width="1.15"/>
<rect x="234.84" y="401.9" width="7.6" height="87.4" fill="#A3002A"/>
<rect x="234.84" y="383.2" width="7.6" height="14.6" fill="#A3002A"/>
<rect x="242.34" y="401.9" width="0.7" height="87.4" fill="#A3002A"/>
<rect x="242.34" y="383.9" width="0.7" height="13.9" fill="#A3002A"/>
<rect x="242.44" y="401.9" width="7.6" height="87.4" fill="#2E4C7E"/>
<rect x="242.44" y="383.9" width="7.6" height="13.9" fill="#2E4C7E"/>
<line x1="238.64" y1="381.34" x2="238.64" y2="385.06" stroke="#000" stroke-width="1.0"/>
<line x1="236.04" y1="381.34" x2="241.24" y2="381.34" stroke="#000" stroke-width="1.15"/>
<line x1="236.04" y1="385.06" x2="241.24" y2="385.06" stroke="#000" stroke-width="1.15"/>
<line x1="246.24" y1="376.18" x2="246.24" y2="391.63" stroke="#000" stroke-width="1.0"/>
<line x1="243.64" y1="376.18" x2="248.84" y2="376.18" stroke="#000" stroke-width="1.15"/>
<line x1="243.64" y1="391.63" x2="248.84" y2="391.63" stroke="#000" stroke-width="1.15"/>
<line x1="183.2" y1="367.5" x2="183.2" y2="398.3" stroke="#000" stroke-width="1.4"/>
<line x1="183.2" y1="401.4" x2="183.2" y2="489.8" stroke="#000" stroke-width="1.4"/>
<line x1="182.7" y1="489.3" x2="257.3" y2="489.3" stroke="#000" stroke-width="1.25"/>
<line x1="183.2" y1="489.3" x2="183.2" y2="492.5" stroke="#1a1a1a" stroke-width="1"/>
<line x1="206.97" y1="489.3" x2="206.97" y2="492.5" stroke="#1a1a1a" stroke-width="1"/>
<line x1="230.74" y1="489.3" x2="230.74" y2="492.5" stroke="#1a1a1a" stroke-width="1"/>
<line x1="254.51" y1="489.3" x2="254.51" y2="492.5" stroke="#1a1a1a" stroke-width="1"/>
<line x1="179.8" y1="397.8" x2="183.2" y2="397.8" stroke="#000" stroke-width="1.15"/>
<text x="176.7" y="398.25" font-size="9.0" text-anchor="end" font-weight="normal" font-style="normal" fill="#1a1a1a" stroke="#1a1a1a" stroke-width="0.25" >2000</text>
<line x1="179.8" y1="370.2" x2="183.2" y2="370.2" stroke="#000" stroke-width="1.15"/>
<text x="176.7" y="373.15" font-size="9.0" text-anchor="end" font-weight="normal" font-style="normal" fill="#1a1a1a" stroke="#1a1a1a" stroke-width="0.25" >4000</text>
<line x1="179.8" y1="489.3" x2="183.2" y2="489.3" stroke="#000" stroke-width="1.15"/>
<text x="176.7" y="492.25" font-size="9.0" text-anchor="end" font-weight="normal" font-style="normal" fill="#1a1a1a" stroke="#1a1a1a" stroke-width="0.25" >0</text>
<line x1="179.8" y1="467.45" x2="183.2" y2="467.45" stroke="#000" stroke-width="1.15"/>
<text x="176.7" y="470.4" font-size="9.0" text-anchor="end" font-weight="normal" font-style="normal" fill="#1a1a1a" stroke="#1a1a1a" stroke-width="0.25" >250</text>
<line x1="179.8" y1="445.6" x2="183.2" y2="445.6" stroke="#000" stroke-width="1.15"/>
<text x="176.7" y="448.55" font-size="9.0" text-anchor="end" font-weight="normal" font-style="normal" fill="#1a1a1a" stroke="#1a1a1a" stroke-width="0.25" >500</text>
<line x1="179.8" y1="423.75" x2="183.2" y2="423.75" stroke="#000" stroke-width="1.15"/>
<text x="176.7" y="426.7" font-size="9.0" text-anchor="end" font-weight="normal" font-style="normal" fill="#1a1a1a" stroke="#1a1a1a" stroke-width="0.25" >750</text>
<line x1="179.8" y1="401.9" x2="183.2" y2="401.9" stroke="#000" stroke-width="1.15"/>
<text x="176.7" y="405.85" font-size="9.0" text-anchor="end" font-weight="normal" font-style="normal" fill="#1a1a1a" stroke="#1a1a1a" stroke-width="0.25" >1000</text>
<text x="194.9" y="503.2" font-size="8.3" text-anchor="middle" font-weight="normal" font-style="normal" fill="#1a1a1a" stroke="#1a1a1a" stroke-width="0.25" >D3</text>
<text x="218.67" y="503.2" font-size="8.3" text-anchor="middle" font-weight="normal" font-style="normal" fill="#1a1a1a" stroke="#1a1a1a" stroke-width="0.25" >D7</text>
<text x="242.44" y="503.2" font-size="8.3" text-anchor="middle" font-weight="normal" font-style="normal" fill="#1a1a1a" stroke="#1a1a1a" stroke-width="0.25" >D10</text>
<line x1="192.7" y1="475.2" x2="202.3" y2="475.2" stroke="#333" stroke-width="1.2"/>
<circle cx="197.5" cy="471" r="1.05" fill="#111"/>
<line x1="212.9" y1="415.2" x2="222.5" y2="415.2" stroke="#333" stroke-width="1.2"/>
<circle cx="217.7" cy="410.8" r="1.05" fill="#111"/>
<rect x="189.6" y="368.1" width="7.2" height="6.9" fill="#A3002A"/>
<rect x="189.6" y="380.2" width="7.2" height="6.9" fill="#2E4C7E"/>
<text x="199.9" y="374" font-size="7.6" text-anchor="start" font-weight="normal" font-style="normal" fill="#1a1a1a" stroke="#1a1a1a" stroke-width="0.25" >Normoxia</text>
<text x="199.9" y="386.1" font-size="7.6" text-anchor="start" font-weight="normal" font-style="normal" fill="#1a1a1a" stroke="#1a1a1a" stroke-width="0.25" >Hypoxia</text>
<text transform="translate(150.9,428.5) rotate(-90) skewX(-10)" x="0" y="0" font-size="10.6" text-anchor="middle" font-style="italic" font-weight="bold" fill="#1a1a1a" textLength="16.8" lengthAdjust="spacingAndGlyphs">GYPA</text>
<text x="132.4" y="362.3" font-size="12.4" text-anchor="start" font-weight="bold" font-style="normal" fill="#000" >H</text>
<rect x="322.5" y="472.43" width="7.2" height="16.82" fill="#A3002A"/>
<rect x="329.6" y="472.43" width="0.7" height="16.82" fill="#A3002A"/>
<rect x="329.7" y="457.43" width="7.2" height="31.82" fill="#2E4C7E"/>
<line x1="326.1" y1="471.3" x2="326.1" y2="473.55" stroke="#000" stroke-width="1.0"/>
<line x1="323.5" y1="471.3" x2="328.7" y2="471.3" stroke="#000" stroke-width="1.15"/>
<line x1="323.5" y1="473.55" x2="328.7" y2="473.55" stroke="#000" stroke-width="1.15"/>
<line x1="333.3" y1="455.18" x2="333.3" y2="459.68" stroke="#000" stroke-width="1.0"/>
<line x1="330.7" y1="455.18" x2="335.9" y2="455.18" stroke="#000" stroke-width="1.15"/>
<line x1="330.7" y1="459.68" x2="335.9" y2="459.68" stroke="#000" stroke-width="1.15"/>
<rect x="342.75" y="434.18" width="7.2" height="55.07" fill="#A3002A"/>
<rect x="349.85" y="434.18" width="0.7" height="55.07" fill="#A3002A"/>
<rect x="349.95" y="428.18" width="7.2" height="61.07" fill="#2E4C7E"/>
<line x1="346.35" y1="431.74" x2="346.35" y2="436.61" stroke="#000" stroke-width="1.0"/>
<line x1="343.75" y1="431.74" x2="348.95" y2="431.74" stroke="#000" stroke-width="1.15"/>
<line x1="343.75" y1="436.61" x2="348.95" y2="436.61" stroke="#000" stroke-width="1.15"/>
<line x1="353.55" y1="425.74" x2="353.55" y2="430.61" stroke="#000" stroke-width="1.0"/>
<line x1="350.95" y1="425.74" x2="356.15" y2="425.74" stroke="#000" stroke-width="1.15"/>
<line x1="350.95" y1="430.61" x2="356.15" y2="430.61" stroke="#000" stroke-width="1.15"/>
<rect x="363" y="421.43" width="7.2" height="67.82" fill="#A3002A"/>
<rect x="370.1" y="436.43" width="0.7" height="52.82" fill="#A3002A"/>
<rect x="370.2" y="436.43" width="7.2" height="52.82" fill="#2E4C7E"/>
<line x1="366.6" y1="414.3" x2="366.6" y2="428.55" stroke="#000" stroke-width="1.0"/>
<line x1="364" y1="414.3" x2="369.2" y2="414.3" stroke="#000" stroke-width="1.15"/>
<line x1="364" y1="428.55" x2="369.2" y2="428.55" stroke="#000" stroke-width="1.15"/>
<line x1="371.2" y1="436.43" x2="376.4" y2="436.43" stroke="#000" stroke-width="1.4"/>
<line x1="319.6" y1="373.8" x2="319.6" y2="489.75" stroke="#000" stroke-width="1.4"/>
<line x1="319.1" y1="489.25" x2="383" y2="489.25" stroke="#000" stroke-width="1.25"/>
<line x1="319.6" y1="489.25" x2="319.6" y2="492.45" stroke="#1a1a1a" stroke-width="1"/>
<line x1="339.85" y1="489.25" x2="339.85" y2="492.45" stroke="#1a1a1a" stroke-width="1"/>
<line x1="360.1" y1="489.25" x2="360.1" y2="492.45" stroke="#1a1a1a" stroke-width="1"/>
<line x1="380.35" y1="489.25" x2="380.35" y2="492.45" stroke="#1a1a1a" stroke-width="1"/>
<line x1="316.2" y1="489.25" x2="319.6" y2="489.25" stroke="#000" stroke-width="1.15"/>
<text x="313.1" y="492.2" font-size="9.0" text-anchor="end" font-weight="normal" font-style="normal" fill="#1a1a1a" stroke="#1a1a1a" stroke-width="0.25" >0</text>
<line x1="316.2" y1="451.75" x2="319.6" y2="451.75" stroke="#000" stroke-width="1.15"/>
<text x="313.1" y="454.7" font-size="9.0" text-anchor="end" font-weight="normal" font-style="normal" fill="#1a1a1a" stroke="#1a1a1a" stroke-width="0.25" >100</text>
<line x1="316.2" y1="414.25" x2="319.6" y2="414.25" stroke="#000" stroke-width="1.15"/>
<text x="313.1" y="417.2" font-size="9.0" text-anchor="end" font-weight="normal" font-style="normal" fill="#1a1a1a" stroke="#1a1a1a" stroke-width="0.25" >200</text>
<line x1="316.2" y1="376.75" x2="319.6" y2="376.75" stroke="#000" stroke-width="1.15"/>
<text x="313.1" y="379.7" font-size="9.0" text-anchor="end" font-weight="normal" font-style="normal" fill="#1a1a1a" stroke="#1a1a1a" stroke-width="0.25" >300</text>
<text x="329.7" y="503.2" font-size="8.3" text-anchor="middle" font-weight="normal" font-style="normal" fill="#1a1a1a" stroke="#1a1a1a" stroke-width="0.25" >D3</text>
<text x="349.95" y="503.2" font-size="8.3" text-anchor="middle" font-weight="normal" font-style="normal" fill="#1a1a1a" stroke="#1a1a1a" stroke-width="0.25" >D7</text>
<text x="370.2" y="503.2" font-size="8.3" text-anchor="middle" font-weight="normal" font-style="normal" fill="#1a1a1a" stroke="#1a1a1a" stroke-width="0.25" >D10</text>
<line x1="324.2" y1="450.8" x2="334.2" y2="450.8" stroke="#333" stroke-width="1.2"/>
<circle cx="329.2" cy="446.9" r="1.05" fill="#111"/>
<rect x="326.1" y="374.7" width="7.2" height="6.9" fill="#A3002A"/>
<rect x="326.1" y="386.8" width="7.2" height="6.9" fill="#2E4C7E"/>
<text x="336.4" y="380.6" font-size="7.6" text-anchor="start" font-weight="normal" font-style="normal" fill="#1a1a1a" stroke="#1a1a1a" stroke-width="0.25" >Normoxia</text>
<text x="336.4" y="392.7" font-size="7.6" text-anchor="start" font-weight="normal" font-style="normal" fill="#1a1a1a" stroke="#1a1a1a" stroke-width="0.25" >Hypoxia</text>
<text transform="translate(292.4,431) rotate(-90) skewX(-10)" x="0" y="0" font-size="10.6" text-anchor="middle" font-style="italic" font-weight="bold" fill="#1a1a1a" textLength="16.6" lengthAdjust="spacingAndGlyphs">TFR2</text>
<text x="276.4" y="362.3" font-size="12.4" text-anchor="start" font-weight="bold" font-style="normal" fill="#000" >I</text>
<rect x="448.8" y="487.71" width="7.25" height="1.54" fill="#A3002A"/>
<rect x="455.95" y="487.71" width="0.7" height="1.54" fill="#A3002A"/>
<rect x="456.05" y="481.95" width="7.25" height="7.3" fill="#2E4C7E"/>
<line x1="449.82" y1="487.71" x2="455.03" y2="487.71" stroke="#000" stroke-width="1.4"/>
<line x1="457.07" y1="481.95" x2="462.28" y2="481.95" stroke="#000" stroke-width="1.4"/>
<rect x="469.93" y="470.97" width="7.25" height="18.28" fill="#A3002A"/>
<rect x="477.08" y="471.9" width="0.7" height="17.35" fill="#A3002A"/>
<rect x="477.18" y="471.9" width="7.25" height="17.35" fill="#2E4C7E"/>
<line x1="470.95" y1="470.97" x2="476.16" y2="470.97" stroke="#000" stroke-width="1.4"/>
<line x1="478.2" y1="471.9" x2="483.41" y2="471.9" stroke="#000" stroke-width="1.4"/>
<rect x="491.06" y="401.04" width="7.25" height="88.21" fill="#A3002A"/>
<rect x="498.21" y="429.12" width="0.7" height="60.13" fill="#A3002A"/>
<rect x="498.31" y="429.12" width="7.25" height="60.13" fill="#2E4C7E"/>
<line x1="494.69" y1="396.01" x2="494.69" y2="406.06" stroke="#000" stroke-width="1.0"/>
<line x1="492.08" y1="396.01" x2="497.29" y2="396.01" stroke="#000" stroke-width="1.15"/>
<line x1="492.08" y1="406.06" x2="497.29" y2="406.06" stroke="#000" stroke-width="1.15"/>
<line x1="501.94" y1="416.85" x2="501.94" y2="441.4" stroke="#000" stroke-width="1.0"/>
<line x1="499.33" y1="416.85" x2="504.54" y2="416.85" stroke="#000" stroke-width="1.15"/>
<line x1="499.33" y1="441.4" x2="504.54" y2="441.4" stroke="#000" stroke-width="1.15"/>
<line x1="445.6" y1="373.8" x2="445.6" y2="489.75" stroke="#000" stroke-width="1.4"/>
<line x1="445.1" y1="489.25" x2="512.3" y2="489.25" stroke="#000" stroke-width="1.25"/>
<line x1="445.6" y1="489.25" x2="445.6" y2="492.45" stroke="#1a1a1a" stroke-width="1"/>
<line x1="466.73" y1="489.25" x2="466.73" y2="492.45" stroke="#1a1a1a" stroke-width="1"/>
<line x1="487.86" y1="489.25" x2="487.86" y2="492.45" stroke="#1a1a1a" stroke-width="1"/>
<line x1="508.99" y1="489.25" x2="508.99" y2="492.45" stroke="#1a1a1a" stroke-width="1"/>
<line x1="442.2" y1="489.25" x2="445.6" y2="489.25" stroke="#000" stroke-width="1.15"/>
<text x="439.1" y="492.2" font-size="9.0" text-anchor="end" font-weight="normal" font-style="normal" fill="#1a1a1a" stroke="#1a1a1a" stroke-width="0.25" >0</text>
<line x1="442.2" y1="470.5" x2="445.6" y2="470.5" stroke="#000" stroke-width="1.15"/>
<text x="439.1" y="473.45" font-size="9.0" text-anchor="end" font-weight="normal" font-style="normal" fill="#1a1a1a" stroke="#1a1a1a" stroke-width="0.25" >100</text>
<line x1="442.2" y1="451.75" x2="445.6" y2="451.75" stroke="#000" stroke-width="1.15"/>
<text x="439.1" y="454.7" font-size="9.0" text-anchor="end" font-weight="normal" font-style="normal" fill="#1a1a1a" stroke="#1a1a1a" stroke-width="0.25" >200</text>
<line x1="442.2" y1="433" x2="445.6" y2="433" stroke="#000" stroke-width="1.15"/>
<text x="439.1" y="435.95" font-size="9.0" text-anchor="end" font-weight="normal" font-style="normal" fill="#1a1a1a" stroke="#1a1a1a" stroke-width="0.25" >300</text>
<line x1="442.2" y1="414.25" x2="445.6" y2="414.25" stroke="#000" stroke-width="1.15"/>
<text x="439.1" y="417.2" font-size="9.0" text-anchor="end" font-weight="normal" font-style="normal" fill="#1a1a1a" stroke="#1a1a1a" stroke-width="0.25" >400</text>
<line x1="442.2" y1="395.5" x2="445.6" y2="395.5" stroke="#000" stroke-width="1.15"/>
<text x="439.1" y="398.45" font-size="9.0" text-anchor="end" font-weight="normal" font-style="normal" fill="#1a1a1a" stroke="#1a1a1a" stroke-width="0.25" >500</text>
<line x1="442.2" y1="376.75" x2="445.6" y2="376.75" stroke="#000" stroke-width="1.15"/>
<text x="439.1" y="379.7" font-size="9.0" text-anchor="end" font-weight="normal" font-style="normal" fill="#1a1a1a" stroke="#1a1a1a" stroke-width="0.25" >600</text>
<text x="456.05" y="503.2" font-size="8.3" text-anchor="middle" font-weight="normal" font-style="normal" fill="#1a1a1a" stroke="#1a1a1a" stroke-width="0.25" >D3</text>
<text x="477.18" y="503.2" font-size="8.3" text-anchor="middle" font-weight="normal" font-style="normal" fill="#1a1a1a" stroke="#1a1a1a" stroke-width="0.25" >D7</text>
<text x="498.31" y="503.2" font-size="8.3" text-anchor="middle" font-weight="normal" font-style="normal" fill="#1a1a1a" stroke="#1a1a1a" stroke-width="0.25" >D10</text>
<line x1="450.8" y1="472.3" x2="461.3" y2="472.3" stroke="#333" stroke-width="1.2"/>
<circle cx="454.45" cy="468.1" r="1.05" fill="#111"/>
<circle cx="457.65" cy="468.1" r="1.05" fill="#111"/>
<rect x="452.3" y="374.7" width="7.2" height="6.9" fill="#A3002A"/>
<rect x="452.3" y="386.8" width="7.2" height="6.9" fill="#2E4C7E"/>
<text x="462.6" y="380.6" font-size="7.6" text-anchor="start" font-weight="normal" font-style="normal" fill="#1a1a1a" stroke="#1a1a1a" stroke-width="0.25" >Normoxia</text>
<text x="462.6" y="392.7" font-size="7.6" text-anchor="start" font-weight="normal" font-style="normal" fill="#1a1a1a" stroke="#1a1a1a" stroke-width="0.25" >Hypoxia</text>
<text transform="translate(418.9,431.3) rotate(-90) skewX(-10)" x="0" y="0" font-size="10.6" text-anchor="middle" font-style="italic" font-weight="bold" fill="#1a1a1a" textLength="18.4" lengthAdjust="spacingAndGlyphs">ERFE</text>
<text x="401.9" y="362.3" font-size="12.4" text-anchor="start" font-weight="bold" font-style="normal" fill="#000" >J</text>
<rect x="56.5" y="626.15" width="6.75" height="27.25" fill="#A3002A"/>
<rect x="63.15" y="626.15" width="0.7" height="27.25" fill="#A3002A"/>
<rect x="63.25" y="597" width="6.75" height="56.4" fill="#2E4C7E"/>
<line x1="59.88" y1="620.5" x2="59.88" y2="631.8" stroke="#000" stroke-width="1.0"/>
<line x1="57.27" y1="620.5" x2="62.48" y2="620.5" stroke="#000" stroke-width="1.15"/>
<line x1="57.27" y1="631.8" x2="62.48" y2="631.8" stroke="#000" stroke-width="1.15"/>
<line x1="66.62" y1="594.97" x2="66.62" y2="599.03" stroke="#000" stroke-width="1.0"/>
<line x1="64.03" y1="594.97" x2="69.22" y2="594.97" stroke="#000" stroke-width="1.15"/>
<line x1="64.03" y1="599.03" x2="69.22" y2="599.03" stroke="#000" stroke-width="1.15"/>
<rect x="76.7" y="620.5" width="6.75" height="32.9" fill="#A3002A"/>
<rect x="83.35" y="620.5" width="0.7" height="32.9" fill="#A3002A"/>
<rect x="83.45" y="587.06" width="6.75" height="66.34" fill="#2E4C7E"/>
<line x1="80.07" y1="613.5" x2="80.07" y2="627.51" stroke="#000" stroke-width="1.0"/>
<line x1="77.47" y1="613.5" x2="82.67" y2="613.5" stroke="#000" stroke-width="1.15"/>
<line x1="77.47" y1="627.51" x2="82.67" y2="627.51" stroke="#000" stroke-width="1.15"/>
<line x1="86.82" y1="580.95" x2="86.82" y2="593.16" stroke="#000" stroke-width="1.0"/>
<line x1="84.22" y1="580.95" x2="89.42" y2="580.95" stroke="#000" stroke-width="1.15"/>
<line x1="84.22" y1="593.16" x2="89.42" y2="593.16" stroke="#000" stroke-width="1.15"/>
<rect x="96.9" y="628.19" width="6.75" height="25.21" fill="#A3002A"/>
<rect x="103.55" y="628.19" width="0.7" height="25.21" fill="#A3002A"/>
<rect x="103.65" y="604.91" width="6.75" height="48.49" fill="#2E4C7E"/>
<line x1="100.27" y1="625.7" x2="100.27" y2="630.67" stroke="#000" stroke-width="1.0"/>
<line x1="97.67" y1="625.7" x2="102.87" y2="625.7" stroke="#000" stroke-width="1.15"/>
<line x1="97.67" y1="630.67" x2="102.87" y2="630.67" stroke="#000" stroke-width="1.15"/>
<line x1="107.02" y1="603.78" x2="107.02" y2="606.04" stroke="#000" stroke-width="1.0"/>
<line x1="104.42" y1="603.78" x2="109.62" y2="603.78" stroke="#000" stroke-width="1.15"/>
<line x1="104.42" y1="606.04" x2="109.62" y2="606.04" stroke="#000" stroke-width="1.15"/>
<line x1="52.9" y1="537.5" x2="52.9" y2="653.9" stroke="#000" stroke-width="1.4"/>
<line x1="52.4" y1="653.4" x2="116" y2="653.4" stroke="#000" stroke-width="1.25"/>
<line x1="52.9" y1="653.4" x2="52.9" y2="656.6" stroke="#1a1a1a" stroke-width="1"/>
<line x1="73.1" y1="653.4" x2="73.1" y2="656.6" stroke="#1a1a1a" stroke-width="1"/>
<line x1="93.3" y1="653.4" x2="93.3" y2="656.6" stroke="#1a1a1a" stroke-width="1"/>
<line x1="113.5" y1="653.4" x2="113.5" y2="656.6" stroke="#1a1a1a" stroke-width="1"/>
<line x1="49.5" y1="653.4" x2="52.9" y2="653.4" stroke="#000" stroke-width="1.15"/>
<text x="46.4" y="656.35" font-size="9.0" text-anchor="end" font-weight="normal" font-style="normal" fill="#1a1a1a" stroke="#1a1a1a" stroke-width="0.25" >0</text>
<line x1="49.5" y1="630.82" x2="52.9" y2="630.82" stroke="#000" stroke-width="1.15"/>
<text x="46.4" y="633.77" font-size="9.0" text-anchor="end" font-weight="normal" font-style="normal" fill="#1a1a1a" stroke="#1a1a1a" stroke-width="0.25" >100</text>
<line x1="49.5" y1="608.24" x2="52.9" y2="608.24" stroke="#000" stroke-width="1.15"/>
<text x="46.4" y="611.19" font-size="9.0" text-anchor="end" font-weight="normal" font-style="normal" fill="#1a1a1a" stroke="#1a1a1a" stroke-width="0.25" >200</text>
<line x1="49.5" y1="585.66" x2="52.9" y2="585.66" stroke="#000" stroke-width="1.15"/>
<text x="46.4" y="588.61" font-size="9.0" text-anchor="end" font-weight="normal" font-style="normal" fill="#1a1a1a" stroke="#1a1a1a" stroke-width="0.25" >300</text>
<line x1="49.5" y1="563.08" x2="52.9" y2="563.08" stroke="#000" stroke-width="1.15"/>
<text x="46.4" y="566.03" font-size="9.0" text-anchor="end" font-weight="normal" font-style="normal" fill="#1a1a1a" stroke="#1a1a1a" stroke-width="0.25" >400</text>
<line x1="49.5" y1="540.5" x2="52.9" y2="540.5" stroke="#000" stroke-width="1.15"/>
<text x="46.4" y="543.45" font-size="9.0" text-anchor="end" font-weight="normal" font-style="normal" fill="#1a1a1a" stroke="#1a1a1a" stroke-width="0.25" >500</text>
<text x="63.25" y="667.4" font-size="8.3" text-anchor="middle" font-weight="normal" font-style="normal" fill="#1a1a1a" stroke="#1a1a1a" stroke-width="0.25" >D3</text>
<text x="83.45" y="667.4" font-size="8.3" text-anchor="middle" font-weight="normal" font-style="normal" fill="#1a1a1a" stroke="#1a1a1a" stroke-width="0.25" >D7</text>
<text x="103.65" y="667.4" font-size="8.3" text-anchor="middle" font-weight="normal" font-style="normal" fill="#1a1a1a" stroke="#1a1a1a" stroke-width="0.25" >D10</text>
<line x1="56.2" y1="590" x2="66.2" y2="590" stroke="#333" stroke-width="1.2"/>
<circle cx="61.2" cy="585.8" r="1.05" fill="#111"/>
<line x1="76.5" y1="578.3" x2="87.8" y2="578.3" stroke="#333" stroke-width="1.2"/>
<circle cx="82.15" cy="573.3" r="1.05" fill="#111"/>
<line x1="97.3" y1="598.8" x2="107.5" y2="598.8" stroke="#333" stroke-width="1.2"/>
<circle cx="100.8" cy="594.4" r="1.05" fill="#111"/>
<circle cx="104" cy="594.4" r="1.05" fill="#111"/>
<rect x="59.6" y="538.5" width="7.2" height="6.9" fill="#A3002A"/>
<rect x="59.6" y="550.6" width="7.2" height="6.9" fill="#2E4C7E"/>
<text x="69.9" y="544.4" font-size="7.6" text-anchor="start" font-weight="normal" font-style="normal" fill="#1a1a1a" stroke="#1a1a1a" stroke-width="0.25" >Normoxia</text>
<text x="69.9" y="556.5" font-size="7.6" text-anchor="start" font-weight="normal" font-style="normal" fill="#1a1a1a" stroke="#1a1a1a" stroke-width="0.25" >Hypoxia</text>
<text transform="translate(25.9,595.5) rotate(-90) skewX(-10)" x="0" y="0" font-size="10.6" text-anchor="middle" font-style="italic" font-weight="bold" fill="#1a1a1a" textLength="28.8" lengthAdjust="spacingAndGlyphs">SLC40A1</text>
<text x="7" y="532.9" font-size="12.4" text-anchor="start" font-weight="bold" font-style="normal" fill="#000" >K</text>
<rect x="184.3" y="629.45" width="6.7" height="23.95" fill="#A3002A"/>
<rect x="190.9" y="629.45" width="0.7" height="23.95" fill="#A3002A"/>
<rect x="191" y="617.84" width="6.7" height="35.56" fill="#2E4C7E"/>
<line x1="187.65" y1="625.48" x2="187.65" y2="633.41" stroke="#000" stroke-width="1.0"/>
<line x1="185.05" y1="625.48" x2="190.25" y2="625.48" stroke="#000" stroke-width="1.15"/>
<line x1="185.05" y1="633.41" x2="190.25" y2="633.41" stroke="#000" stroke-width="1.15"/>
<line x1="194.35" y1="616.71" x2="194.35" y2="618.97" stroke="#000" stroke-width="1.0"/>
<line x1="191.75" y1="616.71" x2="196.95" y2="616.71" stroke="#000" stroke-width="1.15"/>
<line x1="191.75" y1="618.97" x2="196.95" y2="618.97" stroke="#000" stroke-width="1.15"/>
<rect x="204.57" y="632.56" width="6.7" height="20.84" fill="#A3002A"/>
<rect x="211.17" y="632.56" width="0.7" height="20.84" fill="#A3002A"/>
<rect x="211.27" y="612.75" width="6.7" height="40.65" fill="#2E4C7E"/>
<line x1="207.92" y1="629.44" x2="207.92" y2="635.67" stroke="#000" stroke-width="1.0"/>
<line x1="205.32" y1="629.44" x2="210.52" y2="629.44" stroke="#000" stroke-width="1.15"/>
<line x1="205.32" y1="635.67" x2="210.52" y2="635.67" stroke="#000" stroke-width="1.15"/>
<line x1="214.62" y1="611.33" x2="214.62" y2="614.16" stroke="#000" stroke-width="1.0"/>
<line x1="212.02" y1="611.33" x2="217.22" y2="611.33" stroke="#000" stroke-width="1.15"/>
<line x1="212.02" y1="614.16" x2="217.22" y2="614.16" stroke="#000" stroke-width="1.15"/>
<rect x="224.84" y="615.01" width="6.7" height="38.39" fill="#A3002A"/>
<rect x="231.44" y="615.01" width="0.7" height="38.39" fill="#A3002A"/>
<rect x="231.54" y="580.2" width="6.7" height="73.2" fill="#2E4C7E"/>
<line x1="228.19" y1="610.77" x2="228.19" y2="619.26" stroke="#000" stroke-width="1.0"/>
<line x1="225.59" y1="610.77" x2="230.79" y2="610.77" stroke="#000" stroke-width="1.15"/>
<line x1="225.59" y1="619.26" x2="230.79" y2="619.26" stroke="#000" stroke-width="1.15"/>
<line x1="234.89" y1="566.9" x2="234.89" y2="593.5" stroke="#000" stroke-width="1.0"/>
<line x1="232.29" y1="566.9" x2="237.49" y2="566.9" stroke="#000" stroke-width="1.15"/>
<line x1="232.29" y1="593.5" x2="237.49" y2="593.5" stroke="#000" stroke-width="1.15"/>
<line x1="181.45" y1="537.5" x2="181.45" y2="653.9" stroke="#000" stroke-width="1.4"/>
<line x1="180.95" y1="653.4" x2="244.5" y2="653.4" stroke="#000" stroke-width="1.25"/>
<line x1="181.2" y1="653.4" x2="181.2" y2="656.6" stroke="#1a1a1a" stroke-width="1"/>
<line x1="201.47" y1="653.4" x2="201.47" y2="656.6" stroke="#1a1a1a" stroke-width="1"/>
<line x1="221.74" y1="653.4" x2="221.74" y2="656.6" stroke="#1a1a1a" stroke-width="1"/>
<line x1="242.01" y1="653.4" x2="242.01" y2="656.6" stroke="#1a1a1a" stroke-width="1"/>
<line x1="178.05" y1="653.4" x2="181.45" y2="653.4" stroke="#000" stroke-width="1.15"/>
<text x="174.95" y="656.35" font-size="9.0" text-anchor="end" font-weight="normal" font-style="normal" fill="#1a1a1a" stroke="#1a1a1a" stroke-width="0.25" >0</text>
<line x1="178.05" y1="625.17" x2="181.45" y2="625.17" stroke="#000" stroke-width="1.15"/>
<text x="174.95" y="628.12" font-size="9.0" text-anchor="end" font-weight="normal" font-style="normal" fill="#1a1a1a" stroke="#1a1a1a" stroke-width="0.25" >100</text>
<line x1="178.05" y1="596.95" x2="181.45" y2="596.95" stroke="#000" stroke-width="1.15"/>
<text x="174.95" y="599.9" font-size="9.0" text-anchor="end" font-weight="normal" font-style="normal" fill="#1a1a1a" stroke="#1a1a1a" stroke-width="0.25" >200</text>
<line x1="178.05" y1="568.73" x2="181.45" y2="568.73" stroke="#000" stroke-width="1.15"/>
<text x="174.95" y="571.68" font-size="9.0" text-anchor="end" font-weight="normal" font-style="normal" fill="#1a1a1a" stroke="#1a1a1a" stroke-width="0.25" >300</text>
<line x1="178.05" y1="540.5" x2="181.45" y2="540.5" stroke="#000" stroke-width="1.15"/>
<text x="174.95" y="543.45" font-size="9.0" text-anchor="end" font-weight="normal" font-style="normal" fill="#1a1a1a" stroke="#1a1a1a" stroke-width="0.25" >400</text>
<text x="191" y="667.4" font-size="8.3" text-anchor="middle" font-weight="normal" font-style="normal" fill="#1a1a1a" stroke="#1a1a1a" stroke-width="0.25" >D3</text>
<text x="211.27" y="667.4" font-size="8.3" text-anchor="middle" font-weight="normal" font-style="normal" fill="#1a1a1a" stroke="#1a1a1a" stroke-width="0.25" >D7</text>
<text x="231.54" y="667.4" font-size="8.3" text-anchor="middle" font-weight="normal" font-style="normal" fill="#1a1a1a" stroke="#1a1a1a" stroke-width="0.25" >D10</text>
<line x1="184.6" y1="611.7" x2="195.2" y2="611.7" stroke="#333" stroke-width="1.2"/>
<circle cx="189.9" cy="606.5" r="1.05" fill="#111"/>
<line x1="205.4" y1="603.1" x2="215.8" y2="603.1" stroke="#333" stroke-width="1.2"/>
<circle cx="210.6" cy="598.7" r="1.05" fill="#111"/>
<rect x="188.1" y="538.5" width="7.2" height="6.9" fill="#A3002A"/>
<rect x="188.1" y="550.6" width="7.2" height="6.9" fill="#2E4C7E"/>
<text x="198.4" y="544.4" font-size="7.6" text-anchor="start" font-weight="normal" font-style="normal" fill="#1a1a1a" stroke="#1a1a1a" stroke-width="0.25" >Normoxia</text>
<text x="198.4" y="556.5" font-size="7.6" text-anchor="start" font-weight="normal" font-style="normal" fill="#1a1a1a" stroke="#1a1a1a" stroke-width="0.25" >Hypoxia</text>
<text transform="translate(154.1,595.5) rotate(-90) skewX(-10)" x="0" y="0" font-size="10.6" text-anchor="middle" font-style="italic" font-weight="bold" fill="#1a1a1a" textLength="22.9" lengthAdjust="spacingAndGlyphs">NCOA4</text>
<text x="136.8" y="532.9" font-size="12.4" text-anchor="start" font-weight="bold" font-style="normal" fill="#000" >L</text>
<rect x="322.3" y="633.83" width="6.6" height="19.57" fill="#A3002A"/>
<rect x="328.8" y="633.83" width="0.7" height="19.57" fill="#A3002A"/>
<rect x="328.9" y="623.23" width="6.6" height="30.17" fill="#2E4C7E"/>
<line x1="325.6" y1="630.95" x2="325.6" y2="636.7" stroke="#000" stroke-width="1.0"/>
<line x1="323" y1="630.95" x2="328.2" y2="630.95" stroke="#000" stroke-width="1.15"/>
<line x1="323" y1="636.7" x2="328.2" y2="636.7" stroke="#000" stroke-width="1.15"/>
<line x1="332.2" y1="622.25" x2="332.2" y2="624.22" stroke="#000" stroke-width="1.0"/>
<line x1="329.6" y1="622.25" x2="334.8" y2="622.25" stroke="#000" stroke-width="1.15"/>
<line x1="329.6" y1="624.22" x2="334.8" y2="624.22" stroke="#000" stroke-width="1.15"/>
<rect x="341.85" y="615.21" width="6.6" height="38.19" fill="#A3002A"/>
<rect x="348.35" y="615.21" width="0.7" height="38.19" fill="#A3002A"/>
<rect x="348.45" y="601.51" width="6.6" height="51.89" fill="#2E4C7E"/>
<line x1="345.15" y1="612.71" x2="345.15" y2="617.71" stroke="#000" stroke-width="1.0"/>
<line x1="342.55" y1="612.71" x2="347.75" y2="612.71" stroke="#000" stroke-width="1.15"/>
<line x1="342.55" y1="617.71" x2="347.75" y2="617.71" stroke="#000" stroke-width="1.15"/>
<line x1="351.75" y1="597.13" x2="351.75" y2="605.9" stroke="#000" stroke-width="1.0"/>
<line x1="349.15" y1="597.13" x2="354.35" y2="597.13" stroke="#000" stroke-width="1.15"/>
<line x1="349.15" y1="605.9" x2="354.35" y2="605.9" stroke="#000" stroke-width="1.15"/>
<rect x="361.4" y="566.03" width="6.6" height="87.37" fill="#A3002A"/>
<rect x="367.9" y="577.38" width="0.7" height="76.02" fill="#A3002A"/>
<rect x="368" y="577.38" width="6.6" height="76.02" fill="#2E4C7E"/>
<line x1="364.7" y1="564.51" x2="364.7" y2="567.54" stroke="#000" stroke-width="1.0"/>
<line x1="362.1" y1="564.51" x2="367.3" y2="564.51" stroke="#000" stroke-width="1.15"/>
<line x1="362.1" y1="567.54" x2="367.3" y2="567.54" stroke="#000" stroke-width="1.15"/>
<line x1="371.3" y1="573.59" x2="371.3" y2="581.16" stroke="#000" stroke-width="1.0"/>
<line x1="368.7" y1="573.59" x2="373.9" y2="573.59" stroke="#000" stroke-width="1.15"/>
<line x1="368.7" y1="581.16" x2="373.9" y2="581.16" stroke="#000" stroke-width="1.15"/>
<line x1="319.6" y1="537.5" x2="319.6" y2="653.9" stroke="#000" stroke-width="1.4"/>
<line x1="319.1" y1="653.4" x2="380.5" y2="653.4" stroke="#000" stroke-width="1.25"/>
<line x1="319.6" y1="653.4" x2="319.6" y2="656.6" stroke="#1a1a1a" stroke-width="1"/>
<line x1="339.15" y1="653.4" x2="339.15" y2="656.6" stroke="#1a1a1a" stroke-width="1"/>
<line x1="358.7" y1="653.4" x2="358.7" y2="656.6" stroke="#1a1a1a" stroke-width="1"/>
<line x1="378.25" y1="653.4" x2="378.25" y2="656.6" stroke="#1a1a1a" stroke-width="1"/>
<line x1="316.2" y1="653.4" x2="319.6" y2="653.4" stroke="#000" stroke-width="1.15"/>
<text x="313.1" y="656.35" font-size="9.0" text-anchor="end" font-weight="normal" font-style="normal" fill="#1a1a1a" stroke="#1a1a1a" stroke-width="0.25" >0</text>
<line x1="316.2" y1="630.82" x2="319.6" y2="630.82" stroke="#000" stroke-width="1.15"/>
<text x="313.1" y="633.77" font-size="9.0" text-anchor="end" font-weight="normal" font-style="normal" fill="#1a1a1a" stroke="#1a1a1a" stroke-width="0.25" >30</text>
<line x1="316.2" y1="608.24" x2="319.6" y2="608.24" stroke="#000" stroke-width="1.15"/>
<text x="313.1" y="611.19" font-size="9.0" text-anchor="end" font-weight="normal" font-style="normal" fill="#1a1a1a" stroke="#1a1a1a" stroke-width="0.25" >60</text>
<line x1="316.2" y1="585.66" x2="319.6" y2="585.66" stroke="#000" stroke-width="1.15"/>
<text x="313.1" y="588.61" font-size="9.0" text-anchor="end" font-weight="normal" font-style="normal" fill="#1a1a1a" stroke="#1a1a1a" stroke-width="0.25" >90</text>
<line x1="316.2" y1="563.08" x2="319.6" y2="563.08" stroke="#000" stroke-width="1.15"/>
<text x="313.1" y="566.03" font-size="9.0" text-anchor="end" font-weight="normal" font-style="normal" fill="#1a1a1a" stroke="#1a1a1a" stroke-width="0.25" >120</text>
<line x1="316.2" y1="540.5" x2="319.6" y2="540.5" stroke="#000" stroke-width="1.15"/>
<text x="313.1" y="543.45" font-size="9.0" text-anchor="end" font-weight="normal" font-style="normal" fill="#1a1a1a" stroke="#1a1a1a" stroke-width="0.25" >150</text>
<text x="328.9" y="667.4" font-size="8.3" text-anchor="middle" font-weight="normal" font-style="normal" fill="#1a1a1a" stroke="#1a1a1a" stroke-width="0.25" >D3</text>
<text x="348.45" y="667.4" font-size="8.3" text-anchor="middle" font-weight="normal" font-style="normal" fill="#1a1a1a" stroke="#1a1a1a" stroke-width="0.25" >D7</text>
<text x="368" y="667.4" font-size="8.3" text-anchor="middle" font-weight="normal" font-style="normal" fill="#1a1a1a" stroke="#1a1a1a" stroke-width="0.25" >D10</text>
<line x1="323.7" y1="615.6" x2="334.2" y2="615.6" stroke="#333" stroke-width="1.2"/>
<circle cx="328.95" cy="611.7" r="1.05" fill="#111"/>
<rect x="326.1" y="538.5" width="7.2" height="6.9" fill="#A3002A"/>
<rect x="326.1" y="550.6" width="7.2" height="6.9" fill="#2E4C7E"/>
<text x="336.4" y="544.4" font-size="7.6" text-anchor="start" font-weight="normal" font-style="normal" fill="#1a1a1a" stroke="#1a1a1a" stroke-width="0.25" >Normoxia</text>
<text x="336.4" y="556.5" font-size="7.6" text-anchor="start" font-weight="normal" font-style="normal" fill="#1a1a1a" stroke="#1a1a1a" stroke-width="0.25" >Hypoxia</text>
<text transform="translate(292.2,595) rotate(-90) skewX(-10)" x="0" y="0" font-size="10.6" text-anchor="middle" font-style="italic" font-weight="bold" fill="#1a1a1a" textLength="27.7" lengthAdjust="spacingAndGlyphs">SLC11A2</text>
<text x="272.4" y="532.9" font-size="12.4" text-anchor="start" font-weight="bold" font-style="normal" fill="#000" >M</text>
<rect x="449.85" y="651.72" width="7.1" height="1.68" fill="#A3002A"/>
<rect x="456.85" y="651.72" width="0.7" height="1.68" fill="#A3002A"/>
<rect x="456.95" y="648.69" width="7.1" height="4.71" fill="#2E4C7E"/>
<line x1="450.8" y1="651.72" x2="456" y2="651.72" stroke="#000" stroke-width="1.4"/>
<line x1="457.9" y1="648.69" x2="463.1" y2="648.69" stroke="#000" stroke-width="1.4"/>
<rect x="470.35" y="642.51" width="7.1" height="10.89" fill="#A3002A"/>
<rect x="477.35" y="642.51" width="0.7" height="10.89" fill="#A3002A"/>
<rect x="477.45" y="616.02" width="7.1" height="37.38" fill="#2E4C7E"/>
<line x1="473.9" y1="640.99" x2="473.9" y2="644.02" stroke="#000" stroke-width="1.0"/>
<line x1="471.3" y1="640.99" x2="476.5" y2="640.99" stroke="#000" stroke-width="1.15"/>
<line x1="471.3" y1="644.02" x2="476.5" y2="644.02" stroke="#000" stroke-width="1.15"/>
<line x1="481" y1="609.19" x2="481" y2="622.84" stroke="#000" stroke-width="1.0"/>
<line x1="478.4" y1="609.19" x2="483.6" y2="609.19" stroke="#000" stroke-width="1.15"/>
<line x1="478.4" y1="622.84" x2="483.6" y2="622.84" stroke="#000" stroke-width="1.15"/>
<rect x="490.85" y="579.33" width="7.1" height="74.07" fill="#A3002A"/>
<rect x="497.85" y="579.33" width="0.7" height="74.07" fill="#A3002A"/>
<rect x="497.95" y="571.29" width="7.1" height="82.11" fill="#2E4C7E"/>
<line x1="491.8" y1="579.33" x2="497" y2="579.33" stroke="#000" stroke-width="1.4"/>
<line x1="501.5" y1="559.55" x2="501.5" y2="583.04" stroke="#000" stroke-width="1.0"/>
<line x1="498.9" y1="559.55" x2="504.1" y2="559.55" stroke="#000" stroke-width="1.15"/>
<line x1="498.9" y1="583.04" x2="504.1" y2="583.04" stroke="#000" stroke-width="1.15"/>
<line x1="446.95" y1="537.5" x2="446.95" y2="653.9" stroke="#000" stroke-width="1.4"/>
<line x1="446.45" y1="653.4" x2="512" y2="653.4" stroke="#000" stroke-width="1.25"/>
<line x1="446.95" y1="653.4" x2="446.95" y2="656.6" stroke="#1a1a1a" stroke-width="1"/>
<line x1="467.45" y1="653.4" x2="467.45" y2="656.6" stroke="#1a1a1a" stroke-width="1"/>
<line x1="487.95" y1="653.4" x2="487.95" y2="656.6" stroke="#1a1a1a" stroke-width="1"/>
<line x1="508.45" y1="653.4" x2="508.45" y2="656.6" stroke="#1a1a1a" stroke-width="1"/>
<line x1="443.55" y1="653.4" x2="446.95" y2="653.4" stroke="#000" stroke-width="1.15"/>
<text x="440.45" y="656.35" font-size="9.0" text-anchor="end" font-weight="normal" font-style="normal" fill="#1a1a1a" stroke="#1a1a1a" stroke-width="0.25" >0</text>
<line x1="443.55" y1="615.7" x2="446.95" y2="615.7" stroke="#000" stroke-width="1.15"/>
<text x="440.45" y="618.65" font-size="9.0" text-anchor="end" font-weight="normal" font-style="normal" fill="#1a1a1a" stroke="#1a1a1a" stroke-width="0.25" >1000</text>
<line x1="443.55" y1="578" x2="446.95" y2="578" stroke="#000" stroke-width="1.15"/>
<text x="440.45" y="580.95" font-size="9.0" text-anchor="end" font-weight="normal" font-style="normal" fill="#1a1a1a" stroke="#1a1a1a" stroke-width="0.25" >2000</text>
<line x1="443.55" y1="540.3" x2="446.95" y2="540.3" stroke="#000" stroke-width="1.15"/>
<text x="440.45" y="543.25" font-size="9.0" text-anchor="end" font-weight="normal" font-style="normal" fill="#1a1a1a" stroke="#1a1a1a" stroke-width="0.25" >3000</text>
<text x="456.95" y="667.4" font-size="8.3" text-anchor="middle" font-weight="normal" font-style="normal" fill="#1a1a1a" stroke="#1a1a1a" stroke-width="0.25" >D3</text>
<text x="477.45" y="667.4" font-size="8.3" text-anchor="middle" font-weight="normal" font-style="normal" fill="#1a1a1a" stroke="#1a1a1a" stroke-width="0.25" >D7</text>
<text x="497.95" y="667.4" font-size="8.3" text-anchor="middle" font-weight="normal" font-style="normal" fill="#1a1a1a" stroke="#1a1a1a" stroke-width="0.25" >D10</text>
<line x1="456.2" y1="640.6" x2="466.2" y2="640.6" stroke="#333" stroke-width="1.2"/>
<circle cx="459.6" cy="636.3" r="1.05" fill="#111"/>
<circle cx="462.8" cy="636.3" r="1.05" fill="#111"/>
<line x1="474.2" y1="603.5" x2="483.5" y2="603.5" stroke="#333" stroke-width="1.2"/>
<circle cx="478.85" cy="598.7" r="1.05" fill="#111"/>
<rect x="453.5" y="538.5" width="7.2" height="6.9" fill="#A3002A"/>
<rect x="453.5" y="550.6" width="7.2" height="6.9" fill="#2E4C7E"/>
<text x="463.8" y="544.4" font-size="7.6" text-anchor="start" font-weight="normal" font-style="normal" fill="#1a1a1a" stroke="#1a1a1a" stroke-width="0.25" >Normoxia</text>
<text x="463.8" y="556.5" font-size="7.6" text-anchor="start" font-weight="normal" font-style="normal" fill="#1a1a1a" stroke="#1a1a1a" stroke-width="0.25" >Hypoxia</text>
<text transform="translate(415,595.5) rotate(-90) skewX(-10)" x="0" y="0" font-size="10.6" text-anchor="middle" font-style="italic" font-weight="bold" fill="#1a1a1a" textLength="33.3" lengthAdjust="spacingAndGlyphs">SLC25A37</text>
<text x="396.2" y="532.9" font-size="12.4" text-anchor="start" font-weight="bold" font-style="normal" fill="#000" >N</text>
<rect x="0.5" y="0.5" width="519" height="676" fill="none" stroke="#000" stroke-width="1.2"/>
</svg></div>
</body></html>
